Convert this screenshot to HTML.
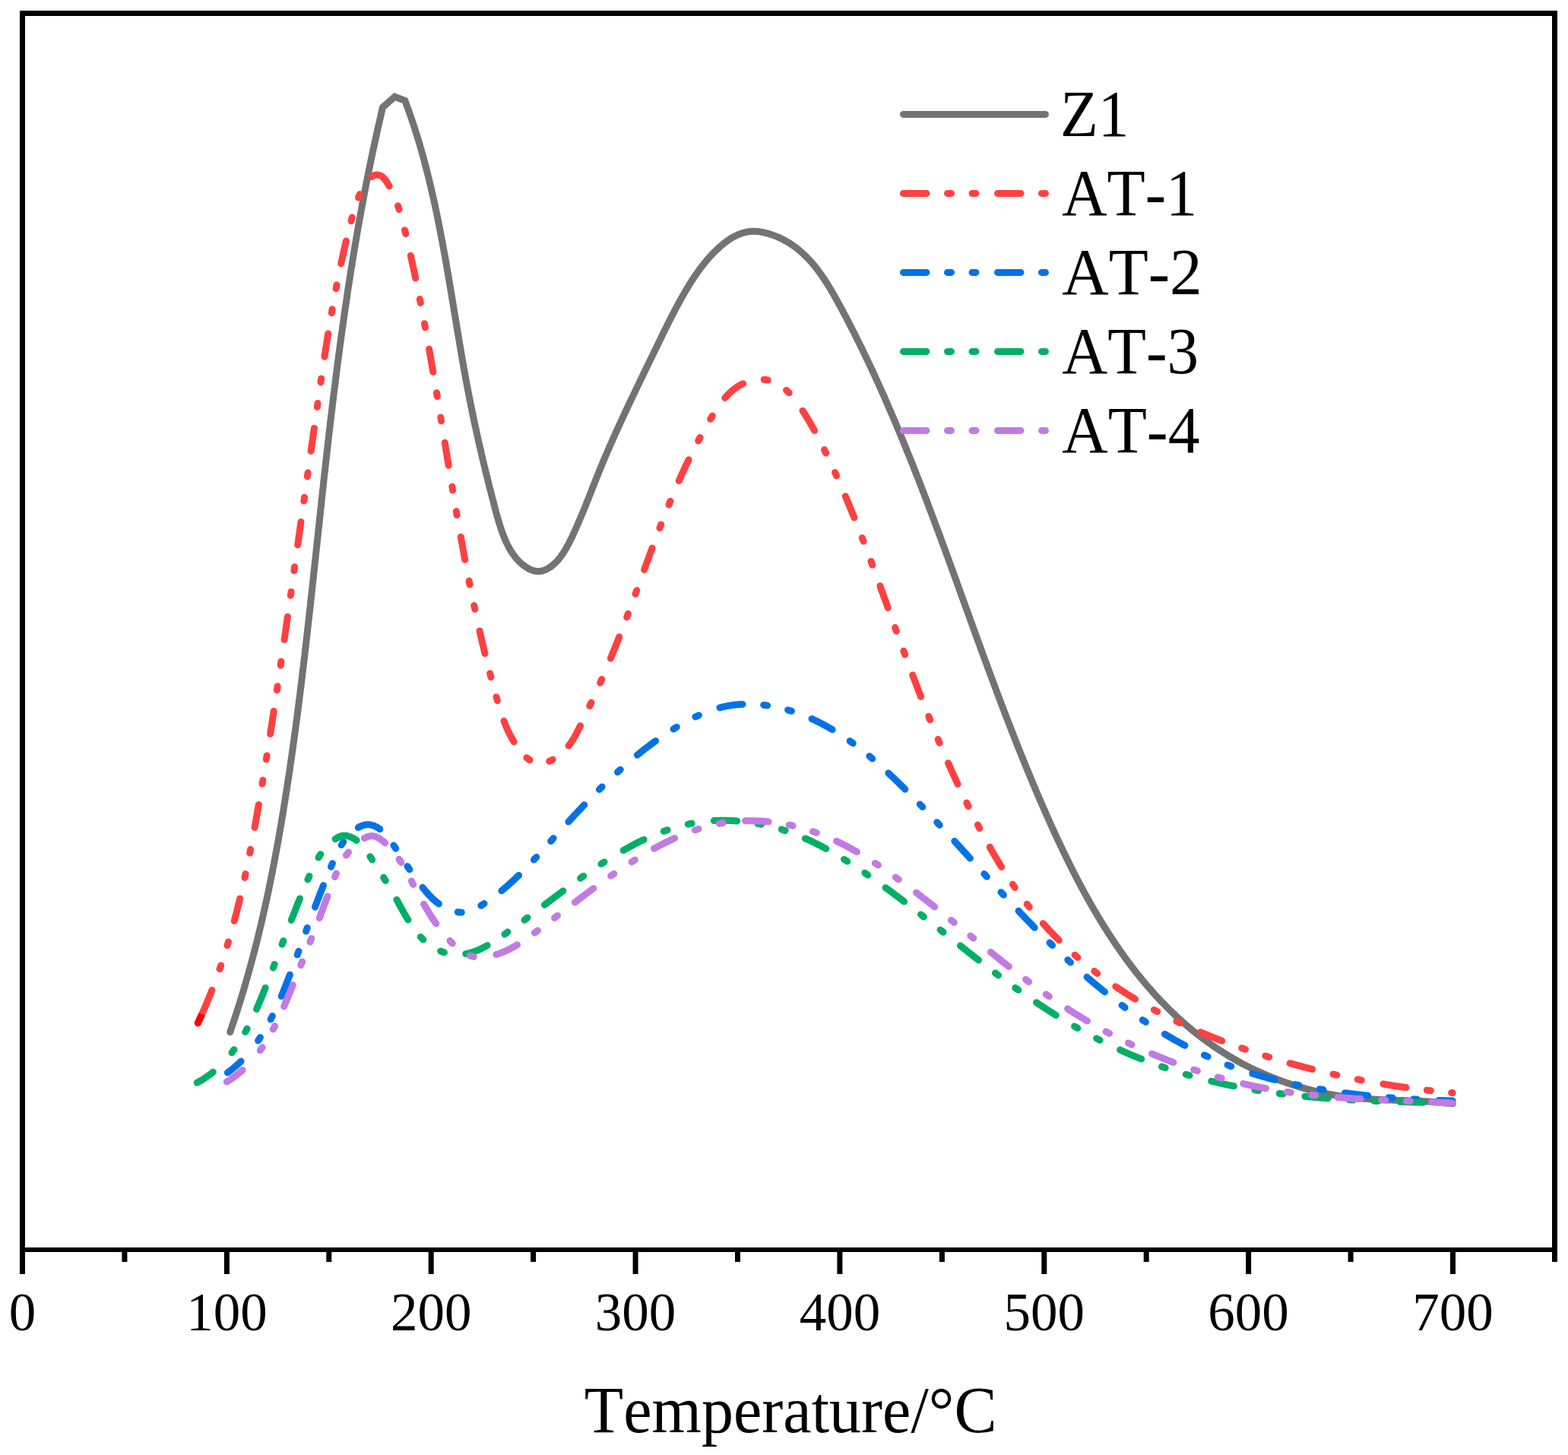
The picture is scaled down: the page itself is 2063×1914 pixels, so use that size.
<!DOCTYPE html><html><head><meta charset="utf-8"><title>TPD</title><style>html,body{margin:0;padding:0;background:#fff;}svg{display:block;}text{font-family:"Liberation Serif","Times New Roman",serif;fill:#000;font-kerning:none;}</style></head><body>
<svg width="2063" height="1914" viewBox="0 0 2063 1914">
<rect x="0" y="0" width="2063" height="1914" fill="#fff"/>
<path d="M302.7 1357.7 L303.4 1355.8 L304.0 1353.9 L304.7 1352.0 L305.3 1350.0 L306.0 1348.1 L306.6 1346.2 L307.3 1344.3 L307.9 1342.4 L308.5 1340.5 L309.2 1338.6 L309.8 1336.7 L310.4 1334.8 L311.0 1332.9 L311.6 1331.0 L312.3 1329.0 L312.9 1327.1 L313.5 1325.2 L314.1 1323.3 L314.7 1321.4 L315.3 1319.5 L315.9 1317.6 L316.5 1315.6 L317.1 1313.7 L317.7 1311.8 L318.2 1309.9 L318.8 1308.0 L319.4 1306.0 L320.0 1304.1 L320.6 1302.2 L321.1 1300.3 L321.7 1298.3 L322.3 1296.4 L322.8 1294.5 L323.4 1292.6 L323.9 1290.6 L324.5 1288.7 L325.0 1286.8 L325.6 1284.9 L326.1 1282.9 L326.7 1281.0 L327.2 1279.1 L327.8 1277.1 L328.3 1275.2 L328.8 1273.3 L329.4 1271.3 L329.9 1269.4 L330.4 1267.5 L330.9 1265.5 L331.5 1263.6 L332.0 1261.7 L332.5 1259.7 L333.0 1257.8 L333.5 1255.9 L334.0 1253.9 L334.5 1252.0 L335.0 1250.1 L335.5 1248.1 L336.0 1246.2 L336.5 1244.2 L337.0 1242.3 L337.5 1240.4 L338.0 1238.4 L338.5 1236.5 L338.9 1234.5 L339.4 1232.6 L339.9 1230.6 L340.4 1228.7 L340.8 1226.7 L341.3 1224.8 L341.8 1222.9 L342.2 1220.9 L342.7 1219.0 L343.2 1217.0 L343.6 1215.1 L344.1 1213.1 L344.5 1211.2 L345.0 1209.2 L345.4 1207.3 L345.9 1205.3 L346.3 1203.4 L346.8 1201.4 L347.2 1199.5 L347.7 1197.5 L348.1 1195.6 L348.5 1193.6 L349.0 1191.7 L349.4 1189.7 L349.8 1187.7 L350.3 1185.8 L350.7 1183.8 L351.1 1181.9 L351.5 1179.9 L351.9 1178.0 L352.4 1176.0 L352.8 1174.1 L353.2 1172.1 L353.6 1170.1 L354.0 1168.2 L354.4 1166.2 L354.8 1164.3 L355.2 1162.3 L355.6 1160.3 L356.0 1158.4 L356.4 1156.4 L356.8 1154.5 L357.2 1152.5 L357.6 1150.5 L358.0 1148.6 L358.4 1146.6 L358.8 1144.6 L359.1 1142.7 L359.5 1140.7 L359.9 1138.7 L360.3 1136.8 L360.7 1134.8 L361.0 1132.9 L361.4 1130.9 L361.8 1128.9 L362.1 1127.0 L362.5 1125.0 L362.9 1123.0 L363.2 1121.1 L363.6 1119.1 L364.0 1117.1 L364.3 1115.1 L364.7 1113.2 L365.0 1111.2 L365.4 1109.2 L365.8 1107.3 L366.1 1105.3 L366.5 1103.3 L366.8 1101.4 L367.2 1099.4 L367.5 1097.4 L367.9 1095.4 L368.2 1093.5 L368.5 1091.5 L368.9 1089.5 L369.2 1087.6 L369.6 1085.6 L369.9 1083.6 L370.2 1081.6 L370.6 1079.7 L370.9 1077.7 L371.2 1075.7 L371.6 1073.7 L371.9 1071.8 L372.2 1069.8 L372.5 1067.8 L372.9 1065.8 L373.2 1063.9 L373.5 1061.9 L373.8 1059.9 L374.1 1057.9 L374.5 1055.9 L374.8 1054.0 L375.1 1052.0 L375.4 1050.0 L375.7 1048.0 L376.0 1046.1 L376.3 1044.1 L376.7 1042.1 L377.0 1040.1 L377.3 1038.1 L377.6 1036.2 L377.9 1034.2 L378.2 1032.2 L378.5 1030.2 L378.8 1028.2 L379.1 1026.3 L379.4 1024.3 L379.7 1022.3 L380.0 1020.3 L380.3 1018.3 L380.6 1016.4 L380.9 1014.4 L381.2 1012.4 L381.5 1010.4 L381.8 1008.4 L382.0 1006.5 L382.3 1004.5 L382.6 1002.5 L382.9 1000.5 L383.2 998.5 L383.5 996.5 L383.8 994.6 L384.1 992.6 L384.3 990.6 L384.6 988.6 L384.9 986.6 L385.2 984.6 L385.5 982.6 L385.7 980.7 L386.0 978.7 L386.3 976.7 L386.6 974.7 L386.8 972.7 L387.1 970.7 L387.4 968.8 L387.6 966.8 L387.9 964.8 L388.2 962.8 L388.5 960.8 L388.7 958.8 L389.0 956.8 L389.3 954.8 L389.5 952.9 L389.8 950.9 L390.0 948.9 L390.3 946.9 L390.6 944.9 L390.8 942.9 L391.1 940.9 L391.4 938.9 L391.6 937.0 L391.9 935.0 L392.1 933.0 L392.4 931.0 L392.6 929.0 L392.9 927.0 L393.1 925.0 L393.4 923.0 L393.6 921.1 L393.9 919.1 L394.2 917.1 L394.4 915.1 L394.7 913.1 L394.9 911.1 L395.1 909.1 L395.4 907.1 L395.6 905.1 L395.9 903.1 L396.1 901.2 L396.4 899.2 L396.6 897.2 L396.9 895.2 L397.1 893.2 L397.4 891.2 L397.6 889.2 L397.8 887.2 L398.1 885.2 L398.3 883.2 L398.6 881.2 L398.8 879.2 L399.0 877.3 L399.3 875.3 L399.5 873.3 L399.7 871.3 L400.0 869.3 L400.2 867.3 L400.4 865.3 L400.7 863.3 L400.9 861.3 L401.1 859.3 L401.4 857.3 L401.6 855.3 L401.8 853.3 L402.1 851.4 L402.3 849.4 L402.5 847.4 L402.8 845.4 L403.0 843.4 L403.2 841.4 L403.4 839.4 L403.7 837.4 L403.9 835.4 L404.1 833.4 L404.4 831.4 L404.6 829.4 L404.8 827.4 L405.0 825.4 L405.3 823.4 L405.5 821.4 L405.7 819.4 L405.9 817.5 L406.2 815.5 L406.4 813.5 L406.6 811.5 L406.8 809.5 L407.0 807.5 L407.3 805.5 L407.5 803.5 L407.7 801.5 L407.9 799.5 L408.1 797.5 L408.4 795.5 L408.6 793.5 L408.8 791.5 L409.0 789.5 L409.2 787.5 L409.5 785.5 L409.7 783.5 L409.9 781.5 L410.1 779.5 L410.3 777.5 L410.6 775.6 L410.8 773.6 L411.0 771.6 L411.2 769.6 L411.4 767.6 L411.6 765.6 L411.9 763.6 L412.1 761.6 L412.3 759.6 L412.5 757.6 L412.7 755.6 L412.9 753.6 L413.1 751.6 L413.4 749.6 L413.6 747.6 L413.8 745.6 L414.0 743.6 L414.2 741.6 L414.4 739.6 L414.6 737.6 L414.9 735.6 L415.1 733.6 L415.3 731.6 L415.5 729.6 L415.7 727.6 L415.9 725.7 L416.1 723.7 L416.4 721.7 L416.6 719.7 L416.8 717.7 L417.0 715.7 L417.2 713.7 L417.4 711.7 L417.6 709.7 L417.9 707.7 L418.1 705.7 L418.3 703.7 L418.5 701.7 L418.7 699.7 L418.9 697.7 L419.1 695.7 L419.4 693.7 L419.6 691.7 L419.8 689.7 L420.0 687.7 L420.2 685.7 L420.4 683.7 L420.6 681.7 L420.9 679.7 L421.1 677.7 L421.3 675.7 L421.5 673.8 L421.7 671.8 L421.9 669.8 L422.1 667.8 L422.4 665.8 L422.6 663.8 L422.8 661.8 L423.0 659.8 L423.2 657.8 L423.4 655.8 L423.7 653.8 L423.9 651.8 L424.1 649.8 L424.3 647.8 L424.5 645.8 L424.7 643.8 L425.0 641.8 L425.2 639.8 L425.4 637.8 L425.6 635.8 L425.8 633.8 L426.0 631.8 L426.3 629.8 L426.5 627.9 L426.7 625.9 L426.9 623.9 L427.1 621.9 L427.4 619.9 L427.6 617.9 L427.8 615.9 L428.0 613.9 L428.3 611.9 L428.5 609.9 L428.7 607.9 L428.9 605.9 L429.1 603.9 L429.4 601.9 L429.6 599.9 L429.8 597.9 L430.0 595.9 L430.3 593.9 L430.5 592.0 L430.7 590.0 L431.0 588.0 L431.2 586.0 L431.4 584.0 L431.6 582.0 L431.9 580.0 L432.1 578.0 L432.3 576.0 L432.6 574.0 L432.8 572.0 L433.0 570.0 L433.2 568.0 L433.5 566.0 L433.7 564.0 L433.9 562.1 L434.2 560.1 L434.4 558.1 L434.6 556.1 L434.9 554.1 L435.1 552.1 L435.3 550.1 L435.6 548.1 L435.8 546.1 L436.1 544.1 L436.3 542.1 L436.5 540.1 L436.8 538.2 L437.0 536.2 L437.2 534.2 L437.5 532.2 L437.7 530.2 L438.0 528.2 L438.2 526.2 L438.5 524.2 L438.7 522.2 L438.9 520.2 L439.2 518.2 L439.4 516.3 L439.7 514.3 L439.9 512.3 L440.2 510.3 L440.4 508.3 L440.7 506.3 L440.9 504.3 L441.2 502.3 L441.4 500.3 L441.7 498.3 L441.9 496.4 L442.2 494.4 L442.4 492.4 L442.7 490.4 L442.9 488.4 L443.2 486.4 L443.4 484.4 L443.7 482.4 L444.0 480.4 L444.2 478.5 L444.5 476.5 L444.7 474.5 L445.0 472.5 L445.3 470.5 L445.5 468.5 L445.8 466.5 L446.0 464.5 L446.3 462.6 L446.6 460.6 L446.8 458.6 L447.1 456.6 L447.4 454.6 L447.6 452.6 L447.9 450.6 L448.2 448.7 L448.4 446.7 L448.7 444.7 L449.0 442.7 L449.3 440.7 L449.5 438.7 L449.8 436.7 L450.1 434.8 L450.4 432.8 L450.6 430.8 L450.9 428.8 L451.2 426.8 L451.5 424.8 L451.7 422.9 L452.0 420.9 L452.3 418.9 L452.6 416.9 L452.9 414.9 L453.2 412.9 L453.4 411.0 L453.7 409.0 L454.0 407.0 L454.3 405.0 L454.6 403.0 L454.9 401.0 L455.2 399.1 L455.5 397.1 L455.8 395.1 L456.1 393.1 L456.4 391.1 L456.6 389.2 L456.9 387.2 L457.2 385.2 L457.5 383.2 L457.8 381.2 L458.1 379.3 L458.4 377.3 L458.7 375.3 L459.1 373.3 L459.4 371.3 L459.7 369.4 L460.0 367.4 L460.3 365.4 L460.6 363.4 L460.9 361.4 L461.2 359.5 L461.5 357.5 L461.8 355.5 L462.1 353.5 L462.5 351.5 L462.8 349.6 L463.1 347.6 L463.4 345.6 L463.7 343.6 L464.1 341.7 L464.4 339.7 L464.7 337.7 L465.0 335.7 L465.3 333.8 L465.7 331.8 L466.0 329.8 L466.3 327.8 L466.7 325.9 L467.0 323.9 L467.3 321.9 L467.7 319.9 L468.0 318.0 L468.3 316.0 L468.7 314.0 L469.0 312.0 L469.3 310.1 L469.7 308.1 L470.0 306.1 L470.4 304.1 L470.7 302.2 L471.1 300.2 L471.4 298.2 L471.7 296.3 L472.1 294.3 L472.4 292.3 L472.8 290.3 L473.1 288.4 L473.5 286.4 L473.9 284.4 L474.2 282.5 L474.6 280.5 L474.9 278.5 L475.3 276.5 L475.7 274.6 L476.0 272.6 L476.4 270.6 L476.7 268.7 L477.1 266.7 L477.5 264.7 L477.8 262.8 L478.2 260.8 L478.6 258.8 L479.0 256.9 L479.3 254.9 L479.7 252.9 L480.1 251.0 L480.5 249.0 L480.9 247.0 L481.2 245.1 L481.6 243.1 L482.0 241.1 L482.4 239.2 L482.8 237.2 L483.2 235.2 L483.5 233.3 L483.9 231.3 L484.3 229.3 L484.7 227.4 L485.1 225.4 L485.5 223.4 L485.9 221.5 L486.3 219.5 L486.7 217.6 L487.1 215.6 L487.5 213.6 L487.9 211.7 L488.3 209.7 L488.7 207.7 L489.2 205.8 L489.6 203.8 L490.0 201.9 L490.4 199.9 L490.8 197.9 L491.2 196.0 L491.6 194.0 L492.1 192.1 L492.5 190.1 L492.9 188.1 L493.3 186.2 L493.8 184.2 L494.2 182.3 L494.6 180.3 L495.1 178.4 L495.5 176.4 L495.9 174.4 L496.4 172.5 L496.8 170.5 L497.2 168.6 L497.7 166.6 L498.1 164.7 L498.6 162.7 L499.0 160.7 L499.5 158.8 L499.9 156.8 L500.4 154.9 L500.8 152.9 L501.3 151.0 L501.7 149.0 L502.2 147.1 L502.6 145.1 L503.1 143.2 L503.6 141.2 L519.4 127.2 L532.9 132.4 L533.6 134.3 L534.3 136.1 L534.9 138.0 L535.6 139.8 L536.3 141.7 L537.0 143.6 L537.7 145.4 L538.3 147.3 L539.0 149.2 L539.6 151.1 L540.3 152.9 L540.9 154.8 L541.6 156.7 L542.2 158.6 L542.8 160.5 L543.5 162.4 L544.1 164.2 L544.7 166.1 L545.3 168.0 L545.9 169.9 L546.5 171.8 L547.1 173.7 L547.7 175.6 L548.3 177.5 L548.9 179.4 L549.5 181.3 L550.1 183.2 L550.7 185.1 L551.2 187.0 L551.8 188.9 L552.4 190.8 L552.9 192.8 L553.5 194.7 L554.0 196.6 L554.6 198.5 L555.1 200.4 L555.6 202.3 L556.2 204.3 L556.7 206.2 L557.2 208.1 L557.8 210.0 L558.3 212.0 L558.8 213.9 L559.3 215.8 L559.8 217.8 L560.3 219.7 L560.8 221.6 L561.3 223.6 L561.8 225.5 L562.3 227.4 L562.8 229.4 L563.3 231.3 L563.8 233.3 L564.2 235.2 L564.7 237.1 L565.2 239.1 L565.6 241.0 L566.1 243.0 L566.6 244.9 L567.0 246.9 L567.5 248.8 L567.9 250.8 L568.4 252.7 L568.8 254.7 L569.3 256.6 L569.7 258.6 L570.2 260.6 L570.6 262.5 L571.0 264.5 L571.5 266.4 L571.9 268.4 L572.3 270.3 L572.7 272.3 L573.1 274.3 L573.6 276.2 L574.0 278.2 L574.4 280.2 L574.8 282.1 L575.2 284.1 L575.6 286.1 L576.0 288.0 L576.4 290.0 L576.8 292.0 L577.2 293.9 L577.6 295.9 L578.0 297.9 L578.4 299.9 L578.8 301.8 L579.1 303.8 L579.5 305.8 L579.9 307.8 L580.3 309.7 L580.7 311.7 L581.0 313.7 L581.4 315.7 L581.8 317.6 L582.2 319.6 L582.5 321.6 L582.9 323.6 L583.3 325.6 L583.6 327.5 L584.0 329.5 L584.3 331.5 L584.7 333.5 L585.1 335.5 L585.4 337.4 L585.8 339.4 L586.1 341.4 L586.5 343.4 L586.8 345.4 L587.2 347.3 L587.5 349.3 L587.9 351.3 L588.2 353.3 L588.5 355.3 L588.9 357.3 L589.2 359.2 L589.6 361.2 L589.9 363.2 L590.3 365.2 L590.6 367.2 L590.9 369.2 L591.3 371.2 L591.6 373.1 L591.9 375.1 L592.3 377.1 L592.6 379.1 L592.9 381.1 L593.3 383.1 L593.6 385.0 L593.9 387.0 L594.3 389.0 L594.6 391.0 L594.9 393.0 L595.2 395.0 L595.6 397.0 L595.9 398.9 L596.2 400.9 L596.6 402.9 L596.9 404.9 L597.2 406.9 L597.5 408.9 L597.9 410.8 L598.2 412.8 L598.5 414.8 L598.9 416.8 L599.2 418.8 L599.5 420.7 L599.8 422.7 L600.2 424.7 L600.5 426.7 L600.8 428.7 L601.1 430.6 L601.5 432.6 L601.8 434.6 L602.1 436.6 L602.5 438.5 L602.8 440.5 L603.1 442.5 L603.5 444.5 L603.8 446.4 L604.1 448.4 L604.4 450.4 L604.8 452.4 L605.1 454.3 L605.4 456.3 L605.8 458.3 L606.1 460.3 L606.5 462.2 L606.8 464.2 L607.1 466.2 L607.5 468.1 L607.8 470.1 L608.1 472.1 L608.5 474.0 L608.8 476.0 L609.2 477.9 L609.5 479.9 L609.9 481.9 L610.2 483.8 L610.6 485.8 L610.9 487.7 L611.3 489.7 L611.6 491.7 L612.0 493.6 L612.3 495.6 L612.7 497.5 L613.0 499.5 L613.4 501.4 L613.8 503.4 L614.1 505.3 L614.5 507.3 L614.9 509.2 L615.2 511.2 L615.6 513.1 L616.0 515.1 L616.3 517.0 L616.7 518.9 L617.1 520.9 L617.5 522.8 L617.9 524.8 L618.2 526.7 L618.6 528.6 L619.0 530.6 L619.4 532.5 L619.8 534.5 L620.2 536.4 L620.6 538.3 L621.0 540.3 L621.4 542.2 L621.8 544.1 L622.2 546.1 L622.6 548.0 L623.0 549.9 L623.4 551.8 L623.8 553.8 L624.2 555.7 L624.6 557.6 L625.0 559.6 L625.5 561.5 L625.9 563.4 L626.3 565.4 L626.7 567.3 L627.1 569.2 L627.6 571.2 L628.0 573.1 L628.4 575.0 L628.9 577.0 L629.3 578.9 L629.7 580.9 L630.2 582.8 L630.6 584.7 L631.1 586.7 L631.5 588.6 L632.0 590.6 L632.4 592.5 L632.9 594.4 L633.3 596.4 L633.8 598.3 L634.2 600.3 L634.7 602.2 L635.1 604.2 L635.6 606.1 L636.1 608.1 L636.5 610.1 L637.0 612.0 L637.5 614.0 L638.0 615.9 L638.4 617.9 L638.9 619.9 L639.4 621.8 L639.9 623.8 L640.4 625.8 L640.9 627.8 L641.4 629.7 L641.8 631.7 L642.3 633.7 L642.8 635.7 L643.3 637.7 L643.8 639.7 L644.3 641.7 L644.9 643.7 L645.4 645.6 L645.9 647.6 L646.4 649.7 L646.9 651.7 L647.4 653.7 L647.9 655.7 L648.5 657.7 L649.0 659.7 L649.5 661.7 L650.0 663.8 L650.6 665.8 L651.1 667.8 L651.7 669.9 L652.2 671.9 L652.7 673.9 L653.3 676.0 L653.8 678.0 L654.4 680.0 L655.0 682.1 L655.6 684.1 L656.2 686.1 L656.8 688.1 L657.4 690.1 L658.0 692.1 L658.7 694.1 L659.3 696.1 L660.0 698.1 L660.7 700.0 L661.4 701.9 L662.1 703.9 L662.8 705.8 L663.6 707.6 L664.4 709.5 L665.2 711.4 L666.0 713.2 L666.9 715.0 L667.8 716.8 L668.7 718.5 L669.6 720.3 L670.5 722.0 L671.5 723.6 L672.5 725.3 L673.6 726.9 L674.7 728.5 L675.8 730.1 L676.9 731.6 L678.1 733.1 L679.3 734.5 L680.5 736.0 L681.8 737.3 L683.1 738.7 L684.5 740.0 L685.9 741.3 L687.3 742.5 L688.8 743.7 L690.3 744.8 L691.8 745.8 L693.4 746.8 L694.9 747.7 L696.5 748.6 L698.2 749.3 L699.8 750.0 L701.5 750.5 L703.1 751.0 L704.8 751.3 L706.5 751.5 L708.2 751.6 L709.9 751.5 L711.5 751.3 L713.2 751.0 L714.9 750.5 L716.5 749.9 L718.2 749.3 L719.8 748.5 L721.4 747.6 L723.0 746.6 L724.5 745.5 L726.1 744.4 L727.5 743.2 L729.0 741.9 L730.4 740.6 L731.8 739.2 L733.2 737.7 L734.5 736.2 L735.8 734.7 L737.0 733.1 L738.3 731.4 L739.5 729.7 L740.7 728.0 L741.8 726.2 L743.0 724.4 L744.1 722.6 L745.2 720.7 L746.2 718.8 L747.3 716.9 L748.3 715.0 L749.3 713.0 L750.3 711.1 L751.3 709.1 L752.2 707.1 L753.2 705.2 L754.1 703.2 L755.0 701.2 L755.9 699.2 L756.8 697.2 L757.7 695.3 L758.5 693.3 L759.4 691.4 L760.2 689.4 L761.1 687.5 L761.9 685.6 L762.7 683.7 L763.5 681.8 L764.3 679.9 L765.1 678.0 L765.9 676.1 L766.7 674.2 L767.5 672.3 L768.2 670.4 L769.0 668.6 L769.8 666.7 L770.5 664.9 L771.3 663.0 L772.0 661.2 L772.7 659.3 L773.5 657.5 L774.2 655.7 L774.9 653.8 L775.6 652.0 L776.4 650.2 L777.1 648.4 L777.8 646.6 L778.5 644.7 L779.2 642.9 L779.9 641.1 L780.7 639.3 L781.4 637.5 L782.1 635.7 L782.8 633.9 L783.5 632.1 L784.2 630.3 L784.9 628.5 L785.7 626.7 L786.4 624.9 L787.1 623.1 L787.8 621.3 L788.6 619.5 L789.3 617.7 L790.0 615.9 L790.8 614.1 L791.5 612.3 L792.3 610.5 L793.0 608.7 L793.8 606.8 L794.5 605.0 L795.3 603.2 L796.1 601.4 L796.8 599.6 L797.6 597.8 L798.4 596.0 L799.2 594.1 L800.0 592.3 L800.8 590.5 L801.6 588.7 L802.3 586.9 L803.1 585.0 L803.9 583.2 L804.8 581.4 L805.6 579.6 L806.4 577.7 L807.2 575.9 L808.0 574.1 L808.8 572.3 L809.6 570.4 L810.5 568.6 L811.3 566.8 L812.1 564.9 L813.0 563.1 L813.8 561.3 L814.6 559.5 L815.5 557.6 L816.3 555.8 L817.2 554.0 L818.0 552.1 L818.9 550.3 L819.7 548.5 L820.6 546.6 L821.4 544.8 L822.3 543.0 L823.1 541.2 L824.0 539.3 L824.8 537.5 L825.7 535.7 L826.6 533.8 L827.4 532.0 L828.3 530.2 L829.2 528.3 L830.0 526.5 L830.9 524.7 L831.8 522.8 L832.7 521.0 L833.5 519.2 L834.4 517.4 L835.3 515.5 L836.2 513.7 L837.0 511.9 L837.9 510.1 L838.8 508.2 L839.7 506.4 L840.5 504.6 L841.4 502.8 L842.3 500.9 L843.2 499.1 L844.1 497.3 L844.9 495.5 L845.8 493.7 L846.7 491.8 L847.6 490.0 L848.5 488.2 L849.3 486.4 L850.2 484.6 L851.1 482.8 L852.0 480.9 L852.9 479.1 L853.7 477.3 L854.6 475.5 L855.5 473.7 L856.4 471.9 L857.3 470.1 L858.1 468.3 L859.0 466.5 L859.9 464.7 L860.7 462.9 L861.6 461.1 L862.5 459.3 L863.4 457.5 L864.2 455.7 L865.1 453.9 L866.0 452.1 L866.8 450.3 L867.7 448.6 L868.6 446.8 L869.4 445.0 L870.3 443.2 L871.2 441.4 L872.0 439.6 L872.9 437.9 L873.8 436.1 L874.6 434.3 L875.5 432.5 L876.4 430.8 L877.3 429.0 L878.1 427.2 L879.0 425.5 L879.9 423.7 L880.8 421.9 L881.7 420.2 L882.6 418.4 L883.5 416.7 L884.4 414.9 L885.3 413.2 L886.2 411.4 L887.1 409.6 L888.0 407.9 L889.0 406.1 L889.9 404.4 L890.8 402.7 L891.8 400.9 L892.7 399.2 L893.6 397.4 L894.6 395.7 L895.6 393.9 L896.5 392.2 L897.5 390.5 L898.5 388.7 L899.5 387.0 L900.5 385.3 L901.5 383.5 L902.5 381.8 L903.5 380.1 L904.6 378.4 L905.6 376.7 L906.7 374.9 L907.7 373.2 L908.8 371.5 L909.9 369.8 L911.0 368.1 L912.1 366.4 L913.2 364.8 L914.3 363.1 L915.5 361.4 L916.6 359.8 L917.8 358.1 L919.0 356.5 L920.1 354.8 L921.3 353.2 L922.6 351.6 L923.8 350.0 L925.0 348.4 L926.3 346.8 L927.6 345.2 L928.9 343.7 L930.2 342.1 L931.5 340.6 L932.8 339.1 L934.2 337.6 L935.5 336.1 L936.9 334.6 L938.3 333.1 L939.7 331.7 L941.2 330.3 L942.6 328.9 L944.1 327.5 L945.6 326.1 L947.1 324.7 L948.6 323.4 L950.2 322.1 L951.8 320.8 L953.3 319.5 L955.0 318.3 L956.6 317.1 L958.2 315.9 L959.9 314.8 L961.6 313.7 L963.3 312.7 L965.0 311.7 L966.7 310.8 L968.5 309.9 L970.3 309.0 L972.1 308.3 L973.9 307.6 L975.7 306.9 L977.6 306.3 L979.5 305.8 L981.4 305.4 L983.3 305.0 L985.2 304.7 L987.2 304.5 L989.1 304.3 L991.1 304.3 L993.1 304.3 L995.1 304.4 L997.2 304.6 L999.2 304.8 L1001.2 305.1 L1003.3 305.5 L1005.3 305.9 L1007.3 306.4 L1009.3 306.9 L1011.3 307.4 L1013.3 308.1 L1015.3 308.7 L1017.3 309.4 L1019.2 310.1 L1021.1 310.9 L1023.0 311.6 L1024.8 312.4 L1026.6 313.3 L1028.4 314.2 L1030.2 315.0 L1032.0 316.0 L1033.7 316.9 L1035.4 317.9 L1037.1 318.9 L1038.8 319.9 L1040.4 321.0 L1042.0 322.1 L1043.6 323.2 L1045.2 324.3 L1046.7 325.5 L1048.3 326.6 L1049.8 327.8 L1051.3 329.1 L1052.8 330.3 L1054.2 331.6 L1055.7 332.9 L1057.1 334.2 L1058.5 335.5 L1059.9 336.8 L1061.3 338.2 L1062.6 339.6 L1064.0 341.0 L1065.3 342.4 L1066.6 343.9 L1067.9 345.3 L1069.1 346.8 L1070.4 348.3 L1071.7 349.8 L1072.9 351.3 L1074.1 352.9 L1075.3 354.4 L1076.5 356.0 L1077.7 357.6 L1078.8 359.2 L1080.0 360.8 L1081.1 362.4 L1082.3 364.0 L1083.4 365.7 L1084.5 367.3 L1085.6 369.0 L1086.7 370.7 L1087.8 372.4 L1088.8 374.1 L1089.9 375.8 L1091.0 377.5 L1092.0 379.2 L1093.0 380.9 L1094.1 382.7 L1095.1 384.4 L1096.1 386.2 L1097.1 387.9 L1098.1 389.7 L1099.1 391.5 L1100.1 393.2 L1101.1 395.0 L1102.1 396.8 L1103.0 398.6 L1104.0 400.4 L1105.0 402.1 L1106.0 403.9 L1106.9 405.7 L1107.9 407.5 L1108.8 409.3 L1109.8 411.1 L1110.7 412.9 L1111.7 414.7 L1112.6 416.5 L1113.6 418.3 L1114.5 420.1 L1115.4 421.9 L1116.4 423.7 L1117.3 425.5 L1118.2 427.3 L1119.2 429.1 L1120.1 430.9 L1121.0 432.7 L1121.9 434.5 L1122.9 436.3 L1123.8 438.1 L1124.7 439.9 L1125.6 441.8 L1126.5 443.6 L1127.4 445.4 L1128.3 447.2 L1129.2 449.0 L1130.1 450.8 L1131.0 452.6 L1131.9 454.4 L1132.8 456.3 L1133.7 458.1 L1134.6 459.9 L1135.4 461.7 L1136.3 463.5 L1137.2 465.4 L1138.1 467.2 L1139.0 469.0 L1139.8 470.8 L1140.7 472.6 L1141.6 474.5 L1142.4 476.3 L1143.3 478.1 L1144.2 479.9 L1145.0 481.8 L1145.9 483.6 L1146.7 485.4 L1147.6 487.2 L1148.4 489.1 L1149.3 490.9 L1150.1 492.7 L1151.0 494.6 L1151.8 496.4 L1152.6 498.2 L1153.5 500.1 L1154.3 501.9 L1155.2 503.7 L1156.0 505.6 L1156.8 507.4 L1157.6 509.2 L1158.5 511.1 L1159.3 512.9 L1160.1 514.7 L1160.9 516.6 L1161.8 518.4 L1162.6 520.2 L1163.4 522.1 L1164.2 523.9 L1165.0 525.8 L1165.8 527.6 L1166.6 529.4 L1167.4 531.3 L1168.2 533.1 L1169.0 535.0 L1169.8 536.8 L1170.6 538.6 L1171.4 540.5 L1172.2 542.3 L1173.0 544.2 L1173.8 546.0 L1174.6 547.9 L1175.4 549.7 L1176.2 551.6 L1176.9 553.4 L1177.7 555.2 L1178.5 557.1 L1179.3 558.9 L1180.1 560.8 L1180.8 562.6 L1181.6 564.5 L1182.4 566.3 L1183.2 568.2 L1183.9 570.0 L1184.7 571.9 L1185.5 573.7 L1186.2 575.6 L1187.0 577.4 L1187.8 579.3 L1188.5 581.1 L1189.3 583.0 L1190.0 584.8 L1190.8 586.7 L1191.5 588.5 L1192.3 590.4 L1193.0 592.2 L1193.8 594.1 L1194.5 595.9 L1195.3 597.8 L1196.0 599.6 L1196.8 601.5 L1197.5 603.3 L1198.3 605.2 L1199.0 607.0 L1199.8 608.9 L1200.5 610.7 L1201.2 612.6 L1202.0 614.5 L1202.7 616.3 L1203.4 618.2 L1204.2 620.0 L1204.9 621.9 L1205.6 623.7 L1206.4 625.6 L1207.1 627.4 L1207.8 629.3 L1208.5 631.2 L1209.3 633.0 L1210.0 634.9 L1210.7 636.7 L1211.4 638.6 L1212.1 640.4 L1212.9 642.3 L1213.6 644.2 L1214.3 646.0 L1215.0 647.9 L1215.7 649.7 L1216.4 651.6 L1217.2 653.5 L1217.9 655.3 L1218.6 657.2 L1219.3 659.0 L1220.0 660.9 L1220.7 662.8 L1221.4 664.6 L1222.1 666.5 L1222.8 668.4 L1223.5 670.2 L1224.2 672.1 L1224.9 673.9 L1225.6 675.8 L1226.3 677.7 L1227.0 679.5 L1227.7 681.4 L1228.4 683.3 L1229.1 685.1 L1229.8 687.0 L1230.5 688.8 L1231.2 690.7 L1231.9 692.6 L1232.6 694.4 L1233.3 696.3 L1234.0 698.2 L1234.7 700.0 L1235.4 701.9 L1236.1 703.8 L1236.8 705.6 L1237.5 707.5 L1238.2 709.4 L1238.8 711.2 L1239.5 713.1 L1240.2 715.0 L1240.9 716.8 L1241.6 718.7 L1242.3 720.6 L1243.0 722.4 L1243.7 724.3 L1244.3 726.2 L1245.0 728.0 L1245.7 729.9 L1246.4 731.8 L1247.1 733.6 L1247.8 735.5 L1248.4 737.4 L1249.1 739.2 L1249.8 741.1 L1250.5 743.0 L1251.2 744.8 L1251.8 746.7 L1252.5 748.6 L1253.2 750.5 L1253.9 752.3 L1254.6 754.2 L1255.2 756.1 L1255.9 757.9 L1256.6 759.8 L1257.3 761.7 L1258.0 763.5 L1258.6 765.4 L1259.3 767.3 L1260.0 769.2 L1260.7 771.0 L1261.3 772.9 L1262.0 774.8 L1262.7 776.6 L1263.4 778.5 L1264.1 780.4 L1264.7 782.2 L1265.4 784.1 L1266.1 786.0 L1266.8 787.9 L1267.4 789.7 L1268.1 791.6 L1268.8 793.5 L1269.5 795.3 L1270.1 797.2 L1270.8 799.1 L1271.5 801.0 L1272.2 802.8 L1272.9 804.7 L1273.5 806.6 L1274.2 808.4 L1274.9 810.3 L1275.6 812.2 L1276.2 814.1 L1276.9 815.9 L1277.6 817.8 L1278.3 819.7 L1279.0 821.5 L1279.6 823.4 L1280.3 825.3 L1281.0 827.2 L1281.7 829.0 L1282.3 830.9 L1283.0 832.8 L1283.7 834.6 L1284.4 836.5 L1285.1 838.4 L1285.7 840.3 L1286.4 842.1 L1287.1 844.0 L1287.8 845.9 L1288.5 847.8 L1289.2 849.6 L1289.8 851.5 L1290.5 853.4 L1291.2 855.2 L1291.9 857.1 L1292.6 859.0 L1293.3 860.9 L1293.9 862.7 L1294.6 864.6 L1295.3 866.5 L1296.0 868.3 L1296.7 870.2 L1297.4 872.1 L1298.1 874.0 L1298.8 875.8 L1299.4 877.7 L1300.1 879.6 L1300.8 881.4 L1301.5 883.3 L1302.2 885.2 L1302.9 887.1 L1303.6 888.9 L1304.3 890.8 L1305.0 892.7 L1305.7 894.5 L1306.4 896.4 L1307.1 898.3 L1307.8 900.2 L1308.5 902.0 L1309.2 903.9 L1309.9 905.8 L1310.6 907.6 L1311.3 909.5 L1312.0 911.4 L1312.7 913.3 L1313.4 915.1 L1314.1 917.0 L1314.8 918.9 L1315.5 920.7 L1316.2 922.6 L1316.9 924.5 L1317.6 926.4 L1318.3 928.2 L1319.0 930.1 L1319.8 932.0 L1320.5 933.8 L1321.2 935.7 L1321.9 937.6 L1322.6 939.4 L1323.3 941.3 L1324.1 943.2 L1324.8 945.1 L1325.5 946.9 L1326.2 948.8 L1326.9 950.7 L1327.7 952.5 L1328.4 954.4 L1329.1 956.3 L1329.8 958.1 L1330.6 960.0 L1331.3 961.9 L1332.0 963.7 L1332.8 965.6 L1333.5 967.5 L1334.2 969.3 L1335.0 971.2 L1335.7 973.1 L1336.4 974.9 L1337.2 976.8 L1337.9 978.7 L1338.7 980.5 L1339.4 982.4 L1340.1 984.3 L1340.9 986.1 L1341.6 988.0 L1342.4 989.9 L1343.1 991.7 L1343.9 993.6 L1344.6 995.5 L1345.4 997.3 L1346.1 999.2 L1346.9 1001.1 L1347.7 1002.9 L1348.4 1004.8 L1349.2 1006.7 L1349.9 1008.5 L1350.7 1010.4 L1351.5 1012.3 L1352.2 1014.1 L1353.0 1016.0 L1353.8 1017.8 L1354.5 1019.7 L1355.3 1021.6 L1356.1 1023.4 L1356.9 1025.3 L1357.6 1027.2 L1358.4 1029.0 L1359.2 1030.9 L1360.0 1032.7 L1360.8 1034.6 L1361.6 1036.5 L1362.3 1038.3 L1363.1 1040.2 L1363.9 1042.0 L1364.7 1043.9 L1365.5 1045.8 L1366.3 1047.6 L1367.1 1049.5 L1367.9 1051.3 L1368.7 1053.2 L1369.5 1055.1 L1370.3 1056.9 L1371.1 1058.8 L1371.9 1060.6 L1372.7 1062.5 L1373.6 1064.4 L1374.4 1066.2 L1375.2 1068.1 L1376.0 1069.9 L1376.8 1071.8 L1377.7 1073.6 L1378.5 1075.5 L1379.3 1077.3 L1380.1 1079.2 L1381.0 1081.1 L1381.8 1082.9 L1382.6 1084.8 L1383.5 1086.6 L1384.3 1088.5 L1385.1 1090.3 L1386.0 1092.2 L1386.8 1094.0 L1387.7 1095.9 L1388.5 1097.7 L1389.4 1099.6 L1390.2 1101.4 L1391.1 1103.2 L1392.0 1105.1 L1392.8 1106.9 L1393.7 1108.8 L1394.6 1110.6 L1395.4 1112.5 L1396.3 1114.3 L1397.2 1116.1 L1398.0 1118.0 L1398.9 1119.8 L1399.8 1121.6 L1400.7 1123.5 L1401.6 1125.3 L1402.5 1127.1 L1403.4 1129.0 L1404.3 1130.8 L1405.2 1132.6 L1406.1 1134.4 L1407.0 1136.2 L1407.9 1138.1 L1408.8 1139.9 L1409.7 1141.7 L1410.6 1143.5 L1411.5 1145.3 L1412.4 1147.1 L1413.4 1148.9 L1414.3 1150.7 L1415.2 1152.6 L1416.2 1154.4 L1417.1 1156.2 L1418.0 1158.0 L1419.0 1159.7 L1419.9 1161.5 L1420.9 1163.3 L1421.8 1165.1 L1422.8 1166.9 L1423.7 1168.7 L1424.7 1170.5 L1425.7 1172.3 L1426.6 1174.0 L1427.6 1175.8 L1428.6 1177.6 L1429.6 1179.4 L1430.5 1181.1 L1431.5 1182.9 L1432.5 1184.7 L1433.5 1186.4 L1434.5 1188.2 L1435.5 1189.9 L1436.5 1191.7 L1437.5 1193.4 L1438.5 1195.2 L1439.5 1196.9 L1440.5 1198.7 L1441.6 1200.4 L1442.6 1202.1 L1443.6 1203.9 L1444.6 1205.6 L1445.7 1207.3 L1446.7 1209.0 L1447.8 1210.8 L1448.8 1212.5 L1449.8 1214.2 L1450.9 1215.9 L1452.0 1217.6 L1453.0 1219.3 L1454.1 1221.0 L1455.2 1222.7 L1456.2 1224.4 L1457.3 1226.1 L1458.4 1227.8 L1459.5 1229.4 L1460.6 1231.1 L1461.7 1232.8 L1462.8 1234.5 L1463.9 1236.1 L1465.0 1237.8 L1466.1 1239.5 L1467.2 1241.1 L1468.3 1242.8 L1469.4 1244.4 L1470.6 1246.1 L1471.7 1247.7 L1472.8 1249.3 L1474.0 1251.0 L1475.1 1252.6 L1476.3 1254.2 L1477.4 1255.8 L1478.6 1257.5 L1479.7 1259.1 L1480.9 1260.7 L1482.1 1262.3 L1483.2 1263.9 L1484.4 1265.5 L1485.6 1267.1 L1486.8 1268.6 L1488.0 1270.2 L1489.2 1271.8 L1490.4 1273.4 L1491.6 1274.9 L1492.8 1276.5 L1494.0 1278.1 L1495.3 1279.6 L1496.5 1281.2 L1497.7 1282.7 L1499.0 1284.2 L1500.2 1285.8 L1501.4 1287.3 L1502.7 1288.8 L1503.9 1290.3 L1505.2 1291.9 L1506.5 1293.4 L1507.7 1294.9 L1509.0 1296.4 L1510.3 1297.9 L1511.6 1299.3 L1512.9 1300.8 L1514.2 1302.3 L1515.5 1303.8 L1516.8 1305.2 L1518.1 1306.7 L1519.4 1308.2 L1520.7 1309.6 L1522.1 1311.1 L1523.4 1312.5 L1524.7 1313.9 L1526.1 1315.4 L1527.4 1316.8 L1528.8 1318.2 L1530.2 1319.6 L1531.5 1321.0 L1532.9 1322.4 L1534.3 1323.8 L1535.7 1325.2 L1537.0 1326.6 L1538.4 1328.0 L1539.8 1329.3 L1541.2 1330.7 L1542.6 1332.1 L1544.1 1333.4 L1545.5 1334.8 L1546.9 1336.1 L1548.3 1337.4 L1549.8 1338.8 L1551.2 1340.1 L1552.7 1341.4 L1554.1 1342.7 L1555.6 1344.0 L1557.1 1345.3 L1558.5 1346.6 L1560.0 1347.9 L1561.5 1349.2 L1563.0 1350.4 L1564.5 1351.7 L1566.0 1353.0 L1567.5 1354.2 L1569.0 1355.5 L1570.5 1356.7 L1572.1 1357.9 L1573.6 1359.2 L1575.2 1360.4 L1576.7 1361.6 L1578.3 1362.8 L1579.8 1364.0 L1581.4 1365.2 L1582.9 1366.4 L1584.5 1367.5 L1586.1 1368.7 L1587.7 1369.9 L1589.3 1371.0 L1590.9 1372.2 L1592.5 1373.3 L1594.1 1374.4 L1595.7 1375.6 L1597.4 1376.7 L1599.0 1377.8 L1600.7 1378.9 L1602.3 1380.0 L1604.0 1381.1 L1605.6 1382.2 L1607.3 1383.2 L1609.0 1384.3 L1610.6 1385.4 L1612.3 1386.4 L1614.0 1387.5 L1615.7 1388.5 L1617.4 1389.5 L1619.2 1390.5 L1620.9 1391.5 L1622.6 1392.6 L1624.3 1393.5 L1626.1 1394.5 L1627.8 1395.5 L1629.6 1396.5 L1631.4 1397.5 L1633.1 1398.4 L1634.9 1399.4 L1636.7 1400.3 L1638.5 1401.2 L1640.3 1402.2 L1642.1 1403.1 L1643.9 1404.0 L1645.7 1404.9 L1647.5 1405.8 L1649.4 1406.6 L1651.2 1407.5 L1653.1 1408.4 L1654.9 1409.2 L1656.8 1410.1 L1658.6 1410.9 L1660.5 1411.7 L1662.4 1412.6 L1664.3 1413.4 L1666.1 1414.2 L1668.0 1415.0 L1669.9 1415.8 L1671.8 1416.5 L1673.7 1417.3 L1675.6 1418.1 L1677.6 1418.8 L1679.5 1419.5 L1681.4 1420.3 L1683.3 1421.0 L1685.2 1421.7 L1687.2 1422.4 L1689.1 1423.1 L1691.1 1423.8 L1693.0 1424.5 L1695.0 1425.1 L1696.9 1425.8 L1698.9 1426.4 L1700.8 1427.1 L1702.8 1427.7 L1704.7 1428.3 L1706.7 1428.9 L1708.7 1429.5 L1710.6 1430.1 L1712.6 1430.7 L1714.6 1431.2 L1716.5 1431.8 L1718.5 1432.3 L1720.5 1432.9 L1722.5 1433.4 L1724.5 1433.9 L1726.4 1434.4 L1728.4 1434.9 L1730.4 1435.4 L1732.4 1435.8 L1734.4 1436.3 L1736.4 1436.8 L1738.3 1437.2 L1740.3 1437.6 L1742.3 1438.0 L1744.3 1438.4 L1746.3 1438.8 L1748.3 1439.2 L1750.2 1439.6 L1752.2 1440.0 L1754.2 1440.3 L1756.2 1440.7 L1758.2 1441.0 L1760.1 1441.3 L1762.1 1441.6 L1764.1 1441.9 L1766.1 1442.2 L1768.0 1442.5 L1770.0 1442.7 L1772.0 1443.0 L1774.0 1443.2 L1775.9 1443.5 L1777.9 1443.7 L1779.9 1443.9 L1781.8 1444.1 L1783.8 1444.3 L1785.7 1444.5 L1787.7 1444.7 L1789.7 1444.8 L1791.6 1445.0 L1793.6 1445.2 L1795.5 1445.3 L1797.5 1445.5 L1799.5 1445.6 L1801.4 1445.7 L1803.4 1445.8 L1805.3 1446.0 L1807.3 1446.1 L1809.2 1446.2 L1811.2 1446.3 L1813.2 1446.4 L1815.1 1446.5 L1817.1 1446.5 L1819.0 1446.6 L1821.0 1446.7 L1823.0 1446.8 L1824.9 1446.9 L1826.9 1446.9 L1828.8 1447.0 L1830.8 1447.1 L1832.8 1447.2 L1834.7 1447.2 L1836.7 1447.3 L1838.7 1447.4 L1840.6 1447.4 L1842.6 1447.5 L1844.6 1447.5 L1846.6 1447.6 L1848.6 1447.7 L1850.5 1447.7 L1852.5 1447.8 L1854.5 1447.9 L1856.5 1448.0 L1858.5 1448.0 L1860.5 1448.1 L1862.5 1448.2 L1864.5 1448.3 L1866.5 1448.4 L1868.5 1448.5 L1870.5 1448.6 L1872.5 1448.7 L1874.5 1448.8 L1876.5 1448.9 L1878.5 1449.0 L1880.5 1449.1 L1882.6 1449.2 L1884.6 1449.4 L1886.6 1449.5 L1888.7 1449.7 L1890.7 1449.8 L1892.7 1450.0 L1894.8 1450.2 L1896.8 1450.3 L1898.9 1450.5 L1901.0 1450.7 L1903.0 1450.9 L1905.1 1451.1 L1907.2 1451.4 L1909.2 1451.6 L1911.3 1451.8" fill="none" stroke="#737373" stroke-width="9.0" stroke-linejoin="miter" stroke-miterlimit="10" stroke-linecap="round"/>
<path d="M260.3 1345.8 L260.3 1345.8 L260.7 1344.9 L261.1 1344.0 L261.6 1343.1 L262.0 1342.2 L262.4 1341.3 L262.8 1340.4 L263.3 1339.5 L263.7 1338.5 L264.1 1337.6 L264.5 1336.7 L264.9 1335.8 L265.3 1334.9 L265.7 1334.0 L266.1 1333.0 L266.6 1332.1 L267.0 1331.2 L267.4 1330.3 L267.8 1329.4 L268.2 1328.4 L268.6 1327.5 L269.0 1326.6 L269.4 1325.7 L269.8 1324.8 L270.2 1323.8 L270.5 1322.9 L270.9 1322.0 L271.3 1321.1 L271.7 1320.1 L272.1 1319.2 L272.5 1318.3 L272.9 1317.4 L273.3 1316.4 L273.6 1315.5 L274.0 1314.6 L274.4 1313.7 L274.8 1312.7 L275.2 1311.8 L275.5 1310.9 L275.9 1309.9 L276.3 1309.0 L276.7 1308.1 L277.0 1307.2 L277.4 1306.2 L277.8 1305.3 L278.1 1304.4 L278.5 1303.4 L278.9 1302.5 L278.9 1302.5 M308.2 1211.6 L308.3 1211.3 L308.6 1210.4 L308.8 1209.4 L309.1 1208.4 L309.3 1207.5 L309.6 1206.5 L309.8 1205.5 L310.1 1204.6 L310.3 1203.6 L310.6 1202.6 L310.8 1201.7 L311.1 1200.7 L311.3 1199.7 L311.6 1198.8 L311.8 1197.8 L312.1 1196.8 L312.3 1195.8 L312.5 1194.9 L312.8 1193.9 L313.0 1192.9 L313.3 1192.0 L313.5 1191.0 L313.7 1190.0 L314.0 1189.1 L314.2 1188.1 L314.5 1187.1 L314.7 1186.2 L314.9 1185.2 L315.2 1184.2 L315.4 1183.2 L315.6 1182.3 L315.7 1182.0 M322.0 1154.5 L322.1 1154.0 L322.3 1153.0 L322.5 1152.0 L322.7 1151.1 L322.9 1150.1 L323.0 1149.6 M328.7 1122.1 L328.8 1121.7 L329.0 1120.7 L329.1 1119.7 L329.3 1118.7 L329.5 1117.7 L329.6 1117.2 M335.0 1088.4 L335.1 1088.2 L335.3 1087.2 L335.4 1086.2 L335.6 1085.3 L335.8 1084.3 L336.0 1083.3 L336.2 1082.3 L336.3 1081.3 L336.5 1080.3 L336.7 1079.3 L336.9 1078.4 L337.0 1077.4 L337.2 1076.4 L337.4 1075.4 L337.6 1074.4 L337.7 1073.4 L337.9 1072.4 L338.1 1071.5 L338.3 1070.5 L338.4 1069.5 L338.6 1068.5 L338.8 1067.5 L339.0 1066.5 L339.1 1065.5 L339.3 1064.6 L339.5 1063.6 L339.6 1062.6 L339.8 1061.6 L340.0 1060.6 L340.2 1059.6 L340.3 1058.6 L340.4 1058.4 M345.0 1031.1 L345.0 1031.0 L345.2 1030.0 L345.4 1029.0 L345.5 1028.1 L345.7 1027.1 L345.8 1026.2 M350.3 998.9 L350.4 998.4 L350.5 997.4 L350.7 996.5 L350.9 995.5 L351.0 994.5 L351.1 993.9 M355.6 965.6 L355.6 965.3 L355.8 964.4 L355.9 963.4 L356.1 962.4 L356.2 961.4 L356.4 960.4 L356.6 959.4 L356.7 958.4 L356.9 957.4 L357.0 956.4 L357.2 955.5 L357.3 954.5 L357.5 953.5 L357.6 952.5 L357.8 951.5 L357.9 950.5 L358.1 949.5 L358.2 948.5 L358.4 947.6 L358.5 946.6 L358.7 945.6 L358.8 944.6 L359.0 943.6 L359.1 942.6 L359.3 941.6 L359.4 940.6 L359.6 939.6 L359.7 938.7 L359.9 937.7 L360.0 936.7 L360.2 935.7 L360.2 935.4 M364.4 907.7 L364.4 907.5 L364.6 906.5 L364.7 905.5 L364.9 904.6 L365.0 903.6 L365.1 902.8 M369.2 875.2 L369.2 874.9 L369.4 873.9 L369.5 872.9 L369.6 871.9 L369.8 870.9 L369.9 870.2 M374.0 841.5 L374.1 841.2 L374.2 840.3 L374.4 839.3 L374.5 838.3 L374.6 837.3 L374.8 836.3 L374.9 835.3 L375.1 834.3 L375.2 833.3 L375.3 832.3 L375.5 831.3 L375.6 830.4 L375.8 829.4 L375.9 828.4 L376.1 827.4 L376.2 826.4 L376.3 825.4 L376.5 824.4 L376.6 823.4 L376.8 822.4 L376.9 821.5 L377.0 820.5 L377.2 819.5 L377.3 818.5 L377.5 817.5 L377.6 816.5 L377.8 815.5 L377.9 814.5 L378.0 813.5 L378.2 812.5 L378.3 811.6 L378.4 811.3 M382.3 783.4 L382.3 783.3 L382.5 782.4 L382.6 781.4 L382.7 780.4 L382.9 779.4 L383.0 778.4 M386.9 750.7 L387.0 750.2 L387.1 749.2 L387.3 748.2 L387.4 747.2 L387.6 746.2 L387.6 745.7 M391.7 716.8 L391.8 716.5 L391.9 715.5 L392.0 714.5 L392.2 713.5 L392.3 712.5 L392.5 711.6 L392.6 710.6 L392.7 709.6 L392.9 708.6 L393.0 707.6 L393.1 706.6 L393.3 705.6 L393.4 704.6 L393.6 703.6 L393.7 702.6 L393.8 701.7 L394.0 700.7 L394.1 699.7 L394.3 698.7 L394.4 697.7 L394.5 696.7 L394.7 695.7 L394.8 694.7 L395.0 693.7 L395.1 692.7 L395.2 691.7 L395.4 690.8 L395.5 689.8 L395.7 688.8 L395.8 687.8 L395.9 686.8 L396.0 686.6 M399.8 659.1 L399.8 659.1 L400.0 658.1 L400.1 657.1 L400.3 656.1 L400.4 655.1 L400.5 654.2 M404.4 626.8 L404.4 626.4 L404.6 625.4 L404.7 624.4 L404.9 623.4 L405.0 622.4 L405.1 621.8 M409.1 593.4 L409.1 593.2 L409.3 592.2 L409.4 591.2 L409.5 590.2 L409.7 589.2 L409.8 588.2 L410.0 587.2 L410.1 586.3 L410.2 585.3 L410.4 584.3 L410.5 583.3 L410.7 582.3 L410.8 581.3 L410.9 580.3 L411.1 579.3 L411.2 578.3 L411.4 577.3 L411.5 576.3 L411.6 575.4 L411.8 574.4 L411.9 573.4 L412.1 572.4 L412.2 571.4 L412.3 570.4 L412.5 569.4 L412.6 568.4 L412.8 567.4 L412.9 566.4 L413.0 565.4 L413.2 564.5 L413.3 563.5 L413.4 563.2 M417.3 535.4 L417.3 535.2 L417.5 534.2 L417.6 533.3 L417.8 532.3 L417.9 531.3 L418.0 530.5 M422.0 502.9 L422.0 502.6 L422.2 501.6 L422.3 500.6 L422.5 499.6 L422.6 498.6 L422.7 497.9 M427.0 469.2 L427.0 468.9 L427.2 467.9 L427.3 466.9 L427.5 465.9 L427.6 465.0 L427.8 464.0 L427.9 463.0 L428.1 462.0 L428.2 461.0 L428.4 460.0 L428.5 459.0 L428.7 458.0 L428.9 457.0 L429.0 456.1 L429.2 455.1 L429.3 454.1 L429.5 453.1 L429.6 452.1 L429.8 451.1 L429.9 450.1 L430.1 449.1 L430.2 448.2 L430.4 447.2 L430.6 446.2 L430.7 445.2 L430.9 444.2 L431.0 443.2 L431.2 442.2 L431.3 441.2 L431.5 440.3 L431.7 439.3 L431.7 439.0 M436.3 411.7 L436.3 411.7 L436.5 410.7 L436.6 409.7 L436.8 408.7 L437.0 407.7 L437.1 406.8 M442.1 379.7 L442.2 379.2 L442.4 378.2 L442.6 377.3 L442.7 376.3 L442.9 375.3 L443.0 374.8 M448.7 346.7 L448.8 346.4 L449.0 345.4 L449.2 344.5 L449.4 343.5 L449.6 342.5 L449.9 341.5 L450.1 340.6 L450.3 339.6 L450.5 338.6 L450.7 337.6 L450.9 336.7 L451.1 335.7 L451.4 334.7 L451.6 333.7 L451.8 332.8 L452.0 331.8 L452.2 330.8 L452.4 329.8 L452.7 328.9 L452.9 327.9 L453.1 326.9 L453.3 325.9 L453.6 325.0 L453.8 324.0 L454.0 323.0 L454.2 322.0 L454.5 321.1 L454.7 320.1 L454.9 319.1 L455.1 318.2 L455.4 317.2 L455.4 316.9 M462.0 290.7 L462.0 290.5 L462.3 289.5 L462.5 288.6 L462.8 287.6 L463.0 286.6 L463.2 285.9 M471.5 260.1 L471.5 259.9 L471.9 258.9 L472.3 258.0 L472.7 257.1 L473.1 256.1 L473.4 255.5 M489.0 232.5 L489.1 232.4 L489.9 231.9 L490.6 231.5 L491.4 231.1 L492.2 230.7 L493.0 230.5 L493.8 230.2 L494.6 230.1 L495.4 230.0 L496.2 230.0 L497.0 230.0 L497.8 230.1 L498.6 230.3 L499.4 230.5 L500.2 230.8 L500.9 231.2 L501.6 231.6 L502.4 232.0 L503.1 232.6 L503.8 233.2 L504.4 233.8 L505.1 234.5 L505.7 235.2 L506.4 235.9 L507.0 236.7 L507.6 237.5 L508.2 238.4 L508.8 239.3 L509.3 240.2 L509.9 241.1 L510.5 242.0 L511.0 242.9 L511.5 243.9 L512.1 244.8 M523.5 270.8 L523.6 271.0 L523.9 271.9 L524.2 272.9 L524.6 273.9 L524.9 274.8 L525.1 275.5 M532.5 302.7 L532.5 302.7 L532.8 303.6 L533.0 304.6 L533.2 305.6 L533.5 306.5 L533.7 307.5 L533.7 307.5 M540.3 336.2 L540.4 336.5 L540.6 337.5 L540.8 338.5 L541.0 339.4 L541.2 340.4 L541.4 341.4 L541.7 342.4 L541.9 343.3 L542.1 344.3 L542.3 345.3 L542.5 346.2 L542.7 347.2 L542.9 348.2 L543.1 349.2 L543.3 350.1 L543.6 351.1 L543.8 352.1 L544.0 353.1 L544.2 354.0 L544.4 355.0 L544.6 356.0 L544.8 357.0 L545.0 357.9 L545.2 358.9 L545.4 359.9 L545.6 360.9 L545.8 361.8 L546.0 362.8 L546.2 363.8 L546.5 364.8 L546.7 365.7 L546.7 366.0 M552.3 393.5 L552.3 393.6 L552.5 394.6 L552.7 395.6 L552.9 396.5 L553.1 397.5 L553.3 398.4 M558.5 425.8 L558.5 426.0 L558.7 427.0 L558.9 428.0 L559.1 428.9 L559.3 429.9 L559.4 430.7 M564.6 459.3 L564.6 459.5 L564.8 460.5 L565.0 461.5 L565.2 462.4 L565.3 463.4 L565.5 464.4 L565.7 465.4 L565.8 466.4 L566.0 467.4 L566.2 468.4 L566.4 469.3 L566.5 470.3 L566.7 471.3 L566.9 472.3 L567.1 473.3 L567.2 474.3 L567.4 475.3 L567.6 476.3 L567.7 477.2 L567.9 478.2 L568.1 479.2 L568.3 480.2 L568.4 481.2 L568.6 482.2 L568.8 483.2 L568.9 484.2 L569.1 485.1 L569.3 486.1 L569.5 487.1 L569.6 488.1 L569.8 489.1 L569.8 489.3 M574.5 516.7 L574.5 516.8 L574.6 517.7 L574.8 518.7 L575.0 519.7 L575.1 520.7 L575.3 521.6 M579.8 548.9 L579.9 549.4 L580.1 550.3 L580.2 551.3 L580.4 552.3 L580.5 553.3 L580.6 553.8 M585.3 582.2 L585.3 582.4 L585.5 583.4 L585.6 584.4 L585.8 585.4 L586.0 586.4 L586.1 587.4 L586.3 588.4 L586.4 589.3 L586.6 590.3 L586.8 591.3 L586.9 592.3 L587.1 593.3 L587.3 594.3 L587.4 595.3 L587.6 596.3 L587.7 597.2 L587.9 598.2 L588.1 599.2 L588.2 600.2 L588.4 601.2 L588.5 602.2 L588.7 603.2 L588.9 604.1 L589.0 605.1 L589.2 606.1 L589.4 607.1 L589.5 608.1 L589.7 609.1 L589.8 610.1 L590.0 611.0 L590.2 612.0 L590.2 612.3 M594.8 640.1 L594.8 640.1 L595.0 641.1 L595.2 642.1 L595.3 643.1 L595.5 644.1 L595.6 645.0 M600.3 672.6 L600.4 673.1 L600.6 674.1 L600.8 675.1 L600.9 676.1 L601.1 677.1 L601.2 677.6 M606.3 706.3 L606.3 706.6 L606.5 707.6 L606.7 708.5 L606.8 709.5 L607.0 710.5 L607.2 711.5 L607.4 712.5 L607.6 713.5 L607.7 714.4 L607.9 715.4 L608.1 716.4 L608.3 717.4 L608.4 718.4 L608.6 719.4 L608.8 720.3 L609.0 721.3 L609.2 722.3 L609.3 723.3 L609.5 724.3 L609.7 725.2 L609.9 726.2 L610.1 727.2 L610.3 728.2 L610.4 729.2 L610.6 730.2 L610.8 731.1 L611.0 732.1 L611.2 733.1 L611.4 734.1 L611.5 735.1 L611.7 736.1 L611.8 736.3 M617.1 764.1 L617.2 764.5 L617.4 765.5 L617.6 766.5 L617.8 767.5 L618.0 768.5 L618.1 769.0 M623.7 796.5 L623.8 796.9 L624.0 797.9 L624.2 798.9 L624.5 799.9 L624.7 800.9 L624.8 801.4 M631.1 830.0 L631.1 830.2 L631.3 831.2 L631.6 832.2 L631.8 833.2 L632.0 834.2 L632.2 835.1 L632.5 836.1 L632.7 837.1 L632.9 838.1 L633.1 839.0 L633.4 840.0 L633.6 841.0 L633.8 842.0 L634.0 843.0 L634.3 843.9 L634.5 844.9 L634.7 845.9 L635.0 846.9 L635.2 847.8 L635.4 848.8 L635.6 849.8 L635.9 850.8 L636.1 851.7 L636.3 852.7 L636.6 853.7 L636.8 854.7 L637.0 855.6 L637.3 856.6 L637.5 857.6 L637.7 858.5 L638.0 859.5 L638.0 859.7 M644.6 885.9 L644.7 886.2 L644.9 887.1 L645.2 888.1 L645.4 889.1 L645.7 890.0 L645.9 890.8 M653.0 916.9 L653.1 917.3 L653.4 918.3 L653.7 919.2 L653.9 920.2 L654.2 921.1 L654.4 921.7 M663.0 948.4 L663.0 948.5 L663.4 949.4 L663.7 950.3 L664.1 951.3 L664.5 952.2 L664.8 953.1 L665.2 954.1 L665.6 955.0 L666.0 955.9 L666.4 956.9 L666.8 957.8 L667.2 958.7 L667.6 959.6 L668.0 960.6 L668.5 961.5 L668.9 962.4 L669.3 963.3 L669.8 964.3 L670.2 965.2 L670.7 966.1 L671.2 967.0 L671.7 967.9 L672.1 968.9 L672.6 969.8 L673.1 970.7 L673.6 971.6 L674.2 972.5 L674.7 973.4 L675.2 974.3 L675.8 975.3 L676.1 975.8 M692.9 996.7 L693.0 996.8 L693.8 997.4 L694.5 998.0 L695.3 998.6 L696.1 999.1 L696.9 999.7 L696.9 999.7 M722.7 1001.4 L722.8 1001.3 L723.8 1000.9 L724.7 1000.5 L725.6 1000.1 L726.5 999.6 L727.2 999.2 M748.1 981.0 L748.4 980.6 L749.1 979.7 L749.7 978.9 L750.3 978.1 L750.9 977.2 L751.5 976.4 L752.1 975.6 L752.6 974.7 L753.2 973.9 L753.7 973.0 L754.3 972.2 L754.8 971.3 L755.3 970.4 L755.8 969.6 L756.3 968.7 L756.8 967.8 L757.3 967.0 L757.7 966.1 L758.2 965.2 L758.7 964.3 L759.1 963.5 L759.6 962.6 L760.0 961.7 L760.5 960.8 L760.9 959.9 L761.3 959.0 L761.8 958.2 L762.2 957.3 L762.6 956.4 L763.1 955.5 L763.5 954.7 M775.8 928.6 L775.8 928.6 L776.2 927.7 L776.7 926.8 L777.1 925.9 L777.5 925.0 L777.9 924.1 M789.7 898.2 L789.7 898.2 L790.1 897.2 L790.5 896.3 L790.9 895.4 L791.3 894.5 L791.7 893.6 M803.4 866.1 L803.4 865.9 L803.8 865.0 L804.2 864.1 L804.6 863.1 L805.0 862.2 L805.3 861.3 L805.7 860.4 L806.1 859.4 L806.5 858.5 L806.9 857.6 L807.2 856.7 L807.6 855.7 L808.0 854.8 L808.4 853.9 L808.7 852.9 L809.1 852.0 L809.5 851.1 L809.8 850.1 L810.2 849.2 L810.6 848.3 L811.0 847.3 L811.3 846.4 L811.7 845.5 L812.1 844.6 L812.4 843.6 L812.8 842.7 L813.2 841.8 L813.5 840.8 L813.9 839.9 L814.3 839.0 L814.6 838.0 L814.7 837.8 M824.7 811.9 L824.7 811.8 L825.1 810.9 L825.4 809.9 L825.8 809.0 L826.1 808.1 L826.4 807.3 M836.0 781.3 L836.0 781.3 L836.4 780.4 L836.7 779.4 L837.1 778.5 L837.4 777.5 L837.8 776.6 M847.6 749.6 L847.7 749.4 L848.0 748.4 L848.4 747.5 L848.7 746.5 L849.1 745.6 L849.4 744.7 L849.7 743.7 L850.1 742.8 L850.4 741.9 L850.8 740.9 L851.1 740.0 L851.5 739.0 L851.8 738.1 L852.1 737.2 L852.5 736.2 L852.8 735.3 L853.2 734.3 L853.5 733.4 L853.9 732.5 L854.2 731.5 L854.5 730.6 L854.9 729.7 L855.2 728.7 L855.6 727.8 L855.9 726.8 L856.3 725.9 L856.6 725.0 L856.9 724.0 L857.3 723.1 L857.6 722.2 L858.0 721.2 L858.1 721.0 M868.0 694.6 L868.0 694.6 L868.3 693.7 L868.7 692.7 L869.0 691.8 L869.4 690.9 L869.7 690.0 M880.0 664.0 L880.2 663.5 L880.6 662.6 L880.9 661.7 L881.3 660.7 L881.7 659.8 L881.9 659.3 M893.3 632.5 L893.4 632.3 L893.8 631.4 L894.2 630.4 L894.6 629.5 L895.0 628.6 L895.4 627.7 L895.8 626.8 L896.2 625.9 L896.7 625.0 L897.1 624.1 L897.5 623.1 L897.9 622.2 L898.3 621.3 L898.7 620.4 L899.1 619.5 L899.6 618.6 L900.0 617.7 L900.4 616.8 L900.8 615.9 L901.2 615.0 L901.7 614.1 L902.1 613.2 L902.5 612.2 L902.9 611.3 L903.4 610.4 L903.8 609.5 L904.2 608.6 L904.7 607.7 L905.1 606.8 L905.5 605.9 L906.0 605.0 L906.1 604.8 M918.7 579.9 L918.7 579.9 L919.1 579.0 L919.6 578.1 L920.1 577.2 L920.6 576.3 L921.0 575.5 M934.7 551.3 L934.8 551.2 L935.3 550.3 L935.8 549.4 L936.3 548.6 L936.9 547.7 L937.3 547.0 M953.8 523.4 L953.9 523.3 L954.5 522.6 L955.2 521.9 L955.8 521.1 L956.5 520.4 L957.2 519.7 L957.9 519.0 L958.6 518.3 L959.3 517.6 L960.0 516.9 L960.7 516.3 L961.4 515.6 L962.1 514.9 L962.9 514.3 L963.6 513.7 L964.4 513.1 L965.1 512.4 L965.9 511.8 L966.7 511.3 L967.4 510.7 L968.2 510.1 L969.0 509.6 L969.8 509.0 L970.7 508.5 L971.5 508.0 L972.3 507.5 L973.2 507.0 L974.0 506.5 L974.9 506.0 L975.8 505.6 L976.7 505.1 L977.6 504.7 L977.6 504.7 M1005.3 499.3 L1005.3 499.3 L1006.3 499.4 L1007.3 499.5 L1008.3 499.7 L1009.2 499.8 L1010.2 500.0 L1010.2 500.0 M1034.6 513.3 L1034.9 513.5 L1035.6 514.2 L1036.4 514.9 L1037.1 515.7 L1037.8 516.4 L1038.2 516.8 M1056.0 540.2 L1056.1 540.4 L1056.7 541.3 L1057.2 542.2 L1057.8 543.1 L1058.4 544.0 L1058.9 544.8 L1059.5 545.7 L1060.0 546.6 L1060.5 547.5 L1061.1 548.3 L1061.6 549.2 L1062.2 550.1 L1062.7 551.0 L1063.2 551.8 L1063.7 552.7 L1064.3 553.6 L1064.8 554.5 L1065.3 555.4 L1065.8 556.2 L1066.3 557.1 L1066.8 558.0 L1067.3 558.9 L1067.8 559.8 L1068.3 560.6 L1068.8 561.5 L1069.3 562.4 L1069.8 563.3 L1070.3 564.1 L1070.8 565.0 L1071.3 565.9 L1071.5 566.4 M1084.5 591.5 L1084.5 591.5 L1084.9 592.4 L1085.4 593.3 L1085.8 594.2 L1086.2 595.1 L1086.7 596.0 L1086.7 596.0 M1098.6 621.4 L1098.7 621.6 L1099.1 622.5 L1099.5 623.4 L1099.9 624.3 L1100.3 625.2 L1100.6 625.9 M1112.3 652.7 L1112.4 653.0 L1112.8 653.9 L1113.2 654.8 L1113.6 655.8 L1113.9 656.7 L1114.3 657.6 L1114.7 658.5 L1115.1 659.4 L1115.5 660.4 L1115.9 661.3 L1116.2 662.2 L1116.6 663.1 L1117.0 664.0 L1117.4 665.0 L1117.8 665.9 L1118.1 666.8 L1118.5 667.7 L1118.9 668.6 L1119.3 669.6 L1119.7 670.5 L1120.0 671.4 L1120.4 672.3 L1120.8 673.3 L1121.2 674.2 L1121.5 675.1 L1121.9 676.0 L1122.3 677.0 L1122.7 677.9 L1123.0 678.8 L1123.4 679.7 L1123.8 680.7 L1123.9 680.9 M1134.3 707.4 L1134.4 707.6 L1134.7 708.6 L1135.1 709.5 L1135.4 710.4 L1135.8 711.4 L1136.1 712.1 M1146.0 738.4 L1146.0 738.5 L1146.4 739.5 L1146.7 740.4 L1147.1 741.3 L1147.4 742.3 L1147.7 743.1 M1157.9 770.8 L1157.9 771.0 L1158.3 771.9 L1158.6 772.9 L1159.0 773.8 L1159.3 774.8 L1159.7 775.7 L1160.0 776.6 L1160.3 777.6 L1160.7 778.5 L1161.0 779.5 L1161.4 780.4 L1161.7 781.4 L1162.0 782.3 L1162.4 783.2 L1162.7 784.2 L1163.1 785.1 L1163.4 786.1 L1163.7 787.0 L1164.1 788.0 L1164.4 788.9 L1164.8 789.8 L1165.1 790.8 L1165.5 791.7 L1165.8 792.7 L1166.1 793.6 L1166.5 794.6 L1166.8 795.5 L1167.2 796.4 L1167.5 797.4 L1167.8 798.3 L1168.2 799.3 L1168.2 799.5 M1177.7 825.6 L1177.7 825.7 L1178.1 826.6 L1178.4 827.6 L1178.7 828.5 L1179.1 829.4 L1179.4 830.3 M1188.9 856.3 L1189.1 856.7 L1189.4 857.7 L1189.7 858.6 L1190.1 859.6 L1190.4 860.5 L1190.6 861.0 M1200.7 887.9 L1200.8 888.2 L1201.1 889.1 L1201.5 890.0 L1201.8 891.0 L1202.2 891.9 L1202.5 892.8 L1202.9 893.8 L1203.2 894.7 L1203.6 895.7 L1203.9 896.6 L1204.3 897.5 L1204.7 898.5 L1205.0 899.4 L1205.4 900.3 L1205.7 901.3 L1206.1 902.2 L1206.4 903.1 L1206.8 904.1 L1207.2 905.0 L1207.5 905.9 L1207.9 906.9 L1208.2 907.8 L1208.6 908.7 L1208.9 909.7 L1209.3 910.6 L1209.7 911.5 L1210.0 912.5 L1210.4 913.4 L1210.7 914.3 L1211.1 915.3 L1211.5 916.2 L1211.6 916.4 M1221.8 942.3 L1221.9 942.7 L1222.3 943.6 L1222.7 944.5 L1223.0 945.5 L1223.4 946.4 L1223.6 946.9 M1234.2 972.6 L1234.2 972.7 L1234.6 973.6 L1235.0 974.6 L1235.4 975.5 L1235.8 976.4 L1236.1 977.2 M1247.5 1003.7 L1247.6 1003.9 L1248.0 1004.8 L1248.4 1005.7 L1248.8 1006.7 L1249.2 1007.6 L1249.7 1008.5 L1250.1 1009.4 L1250.5 1010.3 L1250.9 1011.2 L1251.3 1012.1 L1251.7 1013.0 L1252.1 1013.9 L1252.5 1014.9 L1252.9 1015.8 L1253.3 1016.7 L1253.7 1017.6 L1254.1 1018.5 L1254.6 1019.4 L1255.0 1020.3 L1255.4 1021.2 L1255.8 1022.1 L1256.2 1023.0 L1256.6 1023.9 L1257.0 1024.9 L1257.5 1025.8 L1257.9 1026.7 L1258.3 1027.6 L1258.7 1028.5 L1259.1 1029.4 L1259.6 1030.3 L1260.0 1031.2 L1260.1 1031.4 M1271.8 1056.1 L1272.0 1056.4 L1272.4 1057.3 L1272.9 1058.2 L1273.3 1059.1 L1273.8 1060.0 L1274.1 1060.6 M1286.4 1085.0 L1286.7 1085.5 L1287.1 1086.4 L1287.6 1087.2 L1288.0 1088.1 L1288.5 1089.0 L1288.7 1089.5 M1302.3 1114.3 L1302.4 1114.5 L1302.9 1115.4 L1303.4 1116.3 L1303.9 1117.2 L1304.3 1118.0 L1304.8 1118.9 L1305.3 1119.8 L1305.8 1120.6 L1306.3 1121.5 L1306.8 1122.4 L1307.3 1123.2 L1307.8 1124.1 L1308.3 1125.0 L1308.9 1125.8 L1309.4 1126.7 L1309.9 1127.6 L1310.4 1128.4 L1310.9 1129.3 L1311.4 1130.2 L1311.9 1131.0 L1312.4 1131.9 L1312.9 1132.7 L1313.4 1133.6 L1314.0 1134.5 L1314.5 1135.3 L1315.0 1136.2 L1315.5 1137.0 L1316.0 1137.9 L1316.6 1138.7 L1317.1 1139.6 L1317.6 1140.4 L1317.7 1140.6 M1332.4 1163.3 L1332.5 1163.6 L1333.1 1164.4 L1333.7 1165.2 L1334.2 1166.0 L1334.8 1166.9 L1335.2 1167.4 M1351.2 1189.3 L1351.3 1189.5 L1351.9 1190.3 L1352.5 1191.1 L1353.2 1191.8 L1353.8 1192.6 L1354.3 1193.3 M1372.3 1214.7 L1372.4 1214.8 L1373.1 1215.6 L1373.8 1216.3 L1374.4 1217.1 L1375.1 1217.8 L1375.8 1218.6 L1376.4 1219.3 L1377.1 1220.0 L1377.8 1220.8 L1378.5 1221.5 L1379.2 1222.2 L1379.8 1223.0 L1380.5 1223.7 L1381.2 1224.4 L1381.9 1225.2 L1382.6 1225.9 L1383.3 1226.6 L1384.0 1227.3 L1384.7 1228.1 L1385.4 1228.8 L1386.1 1229.5 L1386.8 1230.2 L1387.5 1230.9 L1388.2 1231.6 L1388.9 1232.4 L1389.6 1233.1 L1390.3 1233.8 L1391.0 1234.5 L1391.7 1235.2 L1392.4 1235.9 L1393.1 1236.6 L1393.3 1236.8 M1414.1 1256.3 L1414.3 1256.4 L1415.1 1257.1 L1415.8 1257.8 L1416.6 1258.4 L1417.3 1259.1 L1417.9 1259.6 M1439.8 1277.5 L1440.1 1277.8 L1440.9 1278.4 L1441.7 1279.0 L1442.5 1279.6 L1443.3 1280.2 L1443.7 1280.5 M1467.8 1297.8 L1468.0 1297.9 L1468.9 1298.5 L1469.7 1299.1 L1470.5 1299.6 L1471.3 1300.2 L1472.2 1300.7 L1473.0 1301.3 L1473.8 1301.8 L1474.7 1302.4 L1475.5 1302.9 L1476.3 1303.4 L1477.2 1304.0 L1478.0 1304.5 L1478.9 1305.1 L1479.7 1305.6 L1480.5 1306.1 L1481.4 1306.7 L1482.2 1307.2 L1483.1 1307.8 L1483.9 1308.3 L1484.7 1308.8 L1485.6 1309.3 L1486.4 1309.9 L1487.3 1310.4 L1488.1 1310.9 L1489.0 1311.4 L1489.8 1312.0 L1490.7 1312.5 L1491.5 1313.0 L1492.4 1313.5 L1493.2 1314.0 L1493.5 1314.2 M1518.3 1328.4 L1518.4 1328.4 L1519.2 1328.9 L1520.1 1329.3 L1521.0 1329.8 L1521.9 1330.3 L1522.7 1330.7 M1547.9 1343.5 L1548.2 1343.6 L1549.1 1344.0 L1550.0 1344.5 L1550.9 1344.9 L1551.8 1345.3 L1552.4 1345.6 M1579.4 1357.7 L1579.6 1357.8 L1580.6 1358.2 L1581.5 1358.6 L1582.4 1359.0 L1583.3 1359.4 L1584.3 1359.8 L1585.2 1360.2 L1586.1 1360.6 L1587.0 1360.9 L1588.0 1361.3 L1588.9 1361.7 L1589.8 1362.1 L1590.7 1362.5 L1591.7 1362.8 L1592.6 1363.2 L1593.5 1363.6 L1594.5 1364.0 L1595.4 1364.3 L1596.3 1364.7 L1597.3 1365.1 L1598.2 1365.5 L1599.1 1365.8 L1600.1 1366.2 L1601.0 1366.6 L1601.9 1366.9 L1602.9 1367.3 L1603.8 1367.7 L1604.7 1368.0 L1605.7 1368.4 L1606.6 1368.7 L1607.5 1369.1 L1607.7 1369.2 M1633.8 1378.7 L1633.9 1378.8 L1634.8 1379.1 L1635.8 1379.4 L1636.7 1379.7 L1637.7 1380.1 L1638.5 1380.4 M1664.8 1389.0 L1664.8 1389.0 L1665.8 1389.3 L1666.7 1389.6 L1667.7 1389.9 L1668.6 1390.2 L1669.6 1390.5 M1697.1 1398.7 L1697.4 1398.7 L1698.4 1399.0 L1699.3 1399.3 L1700.3 1399.5 L1701.3 1399.8 L1702.2 1400.1 L1703.2 1400.3 L1704.1 1400.6 L1705.1 1400.9 L1706.1 1401.1 L1707.0 1401.4 L1708.0 1401.7 L1709.0 1401.9 L1709.9 1402.2 L1710.9 1402.4 L1711.9 1402.7 L1712.8 1403.0 L1713.8 1403.2 L1714.7 1403.5 L1715.7 1403.7 L1716.7 1404.0 L1717.6 1404.2 L1718.6 1404.5 L1719.6 1404.7 L1720.5 1405.0 L1721.5 1405.2 L1722.5 1405.5 L1723.4 1405.7 L1724.4 1406.0 L1725.4 1406.2 L1726.3 1406.5 L1726.6 1406.5 M1754.0 1413.1 L1754.0 1413.1 L1755.0 1413.3 L1756.0 1413.5 L1756.9 1413.8 L1757.9 1414.0 L1758.9 1414.2 M1786.3 1419.9 L1786.7 1420.0 L1787.7 1420.2 L1788.7 1420.4 L1789.7 1420.6 L1790.6 1420.8 L1791.2 1420.9 M1819.9 1426.0 L1820.1 1426.0 L1821.1 1426.2 L1822.1 1426.4 L1823.1 1426.5 L1824.1 1426.7 L1825.1 1426.9 L1826.0 1427.0 L1827.0 1427.2 L1828.0 1427.3 L1829.0 1427.5 L1830.0 1427.6 L1831.0 1427.8 L1832.0 1427.9 L1833.0 1428.1 L1833.9 1428.3 L1834.9 1428.4 L1835.9 1428.6 L1836.9 1428.7 L1837.9 1428.9 L1838.9 1429.0 L1839.9 1429.2 L1840.9 1429.3 L1841.9 1429.4 L1842.9 1429.6 L1843.8 1429.7 L1844.8 1429.9 L1845.8 1430.0 L1846.8 1430.2 L1847.8 1430.3 L1848.8 1430.4 L1849.8 1430.6 L1850.0 1430.6 M1877.3 1434.1 L1877.6 1434.1 L1878.6 1434.3 L1879.6 1434.4 L1880.6 1434.5 L1881.6 1434.6 L1882.3 1434.7 M1909.6 1437.4 L1910.1 1437.5 L1911.1 1437.6 M289.0 1274.7 L289.2 1274.3 L289.5 1273.4 L289.8 1272.5 L290.1 1271.5 L290.5 1270.6 L290.7 1270.0 M299.0 1243.8 L299.1 1243.5 L299.4 1242.5 L299.7 1241.6 L300.0 1240.6 L300.3 1239.7 L300.5 1239.0" fill="none" stroke="#ff4040" stroke-width="9.0" stroke-linejoin="round" stroke-linecap="round"/>
<path d="M260.3 1345.8 L260.7 1344.9 L261.1 1344.0 L261.6 1343.1 L262.0 1342.2 L262.4 1341.3 L262.8 1340.4 L263.3 1339.5 L263.7 1338.5 L264.1 1337.6 L264.5 1336.7 L264.9 1335.8 L265.3 1334.9 L265.7 1334.0" fill="none" stroke="#ff0000" stroke-width="9.0" stroke-linecap="butt"/>
<circle cx="260.3" cy="1345.8" r="4.5" fill="#ff0000"/>
<path d="M299.4 1411.0 L299.4 1411.0 L300.2 1410.4 L301.1 1409.8 L301.9 1409.2 L302.7 1408.6 L303.5 1408.0 L304.3 1407.3 L305.1 1406.7 L305.9 1406.1 L306.6 1405.4 L307.4 1404.8 L308.2 1404.1 L309.0 1403.5 L309.7 1402.8 L310.5 1402.2 L311.2 1401.5 L312.0 1400.9 L312.7 1400.2 L313.5 1399.5 L314.2 1398.8 L314.9 1398.1 L315.6 1397.5 L316.4 1396.8 L317.1 1396.1 M370.2 1310.6 L370.2 1310.5 L370.6 1309.5 L371.0 1308.6 L371.4 1307.7 L371.8 1306.7 L372.2 1305.8 L372.5 1304.9 L372.9 1303.9 L373.3 1303.0 L373.7 1302.1 L374.1 1301.1 L374.4 1300.2 L374.8 1299.2 L375.2 1298.3 L375.6 1297.4 L375.9 1296.4 L376.3 1295.5 L376.7 1294.5 L377.0 1293.6 L377.4 1292.7 L377.8 1291.7 L378.1 1290.8 L378.5 1289.9 L378.9 1288.9 L379.2 1288.0 L379.6 1287.0 L379.9 1286.1 L380.3 1285.2 L380.7 1284.2 L381.0 1283.3 L381.4 1282.3 L381.4 1282.2 M391.3 1256.0 L391.4 1255.7 L391.7 1254.8 L392.0 1253.8 L392.4 1252.9 L392.7 1252.0 L393.0 1251.3 M402.6 1225.1 L402.6 1225.0 L403.0 1224.1 L403.3 1223.2 L403.7 1222.2 L404.0 1221.3 L404.3 1220.4 M414.5 1193.2 L414.6 1193.0 L414.9 1192.0 L415.3 1191.1 L415.6 1190.2 L416.0 1189.2 L416.3 1188.3 L416.7 1187.4 L417.0 1186.4 L417.4 1185.5 L417.8 1184.6 L418.1 1183.6 L418.5 1182.7 L418.8 1181.8 L419.2 1180.8 L419.5 1179.9 L419.9 1179.0 L420.3 1178.0 L420.6 1177.1 L421.0 1176.2 L421.4 1175.2 L421.7 1174.3 L422.1 1173.4 L422.5 1172.4 L422.8 1171.5 L423.2 1170.6 L423.6 1169.6 L423.9 1168.7 L424.3 1167.7 L424.7 1166.8 L425.0 1165.9 L425.4 1164.9 L425.5 1164.8 M435.5 1140.3 L435.6 1139.9 L436.0 1139.0 L436.4 1138.0 L436.8 1137.1 L437.2 1136.1 L437.4 1135.7 M449.1 1111.6 L449.3 1111.3 L449.8 1110.4 L450.4 1109.6 L450.9 1108.8 L451.4 1107.9 L451.8 1107.4 M471.3 1088.6 L471.4 1088.5 L472.2 1088.1 L473.1 1087.6 L474.0 1087.2 L474.9 1086.8 L475.8 1086.4 L476.7 1086.0 L477.7 1085.7 L478.6 1085.4 L479.6 1085.2 L480.5 1085.0 L481.5 1084.8 L482.5 1084.7 L483.4 1084.7 L484.4 1084.7 L485.4 1084.8 L486.3 1084.9 L487.3 1085.0 L488.2 1085.2 L489.1 1085.4 L490.0 1085.7 L490.9 1085.9 L491.8 1086.3 L492.7 1086.6 L493.5 1087.0 L494.4 1087.4 L495.2 1087.8 L496.1 1088.3 L496.9 1088.8 L497.7 1089.3 L498.5 1089.8 L499.3 1090.4 L499.7 1090.7 M517.9 1112.0 L518.2 1112.5 L518.8 1113.3 L519.4 1114.2 L520.0 1115.1 L520.6 1116.0 L520.7 1116.2 M536.1 1139.6 L536.1 1139.6 L536.7 1140.5 L537.2 1141.3 L537.8 1142.1 L538.3 1142.9 L538.9 1143.7 L538.9 1143.8 M556.0 1167.4 L556.1 1167.5 L556.7 1168.3 L557.4 1169.1 L558.0 1169.9 L558.6 1170.6 L559.3 1171.4 L559.9 1172.2 L560.6 1172.9 L561.2 1173.7 L561.9 1174.5 L562.6 1175.2 L563.3 1176.0 L563.9 1176.7 L564.6 1177.5 L565.3 1178.2 L566.0 1178.9 L566.7 1179.6 L567.4 1180.4 L568.1 1181.1 L568.9 1181.8 L569.6 1182.5 L570.3 1183.2 L571.1 1183.8 L571.8 1184.5 L572.6 1185.2 L573.4 1185.8 L574.1 1186.5 L574.9 1187.1 L575.7 1187.7 L576.5 1188.3 L577.3 1188.9 L577.4 1189.0 M602.3 1199.8 L602.4 1199.8 L603.4 1200.0 L604.4 1200.1 L605.5 1200.1 L606.5 1200.2 L607.3 1200.2 M632.8 1191.3 L632.9 1191.3 L633.7 1190.7 L634.6 1190.2 L635.4 1189.6 L636.3 1189.1 L637.0 1188.6 M659.9 1171.8 L660.1 1171.6 L660.9 1170.9 L661.7 1170.3 L662.4 1169.7 L663.2 1169.0 L663.9 1168.4 L664.7 1167.7 L665.5 1167.1 L666.2 1166.4 L667.0 1165.8 L667.7 1165.1 L668.5 1164.5 L669.2 1163.8 L669.9 1163.2 L670.7 1162.5 L671.4 1161.8 L672.2 1161.2 L672.9 1160.5 L673.6 1159.8 L674.4 1159.2 L675.1 1158.5 L675.8 1157.8 L676.6 1157.1 L677.3 1156.4 L678.0 1155.8 L678.7 1155.1 L679.4 1154.4 L680.2 1153.7 L680.9 1153.0 L681.6 1152.3 L682.3 1151.6 L682.6 1151.4 M702.4 1131.1 L702.5 1131.0 L703.1 1130.3 L703.8 1129.5 L704.5 1128.8 L705.2 1128.1 L705.8 1127.4 M724.7 1106.5 L725.0 1106.2 L725.7 1105.5 L726.4 1104.7 L727.0 1104.0 L727.7 1103.2 L728.1 1102.8 M747.9 1081.0 L748.0 1080.9 L748.7 1080.2 L749.4 1079.4 L750.1 1078.7 L750.7 1078.0 L751.4 1077.2 L752.1 1076.5 L752.8 1075.7 L753.5 1075.0 L754.2 1074.3 L754.8 1073.5 L755.5 1072.8 L756.2 1072.1 L756.9 1071.3 L757.6 1070.6 L758.3 1069.9 L759.0 1069.1 L759.6 1068.4 L760.3 1067.6 L761.0 1066.9 L761.7 1066.2 L762.4 1065.4 L763.1 1064.7 L763.8 1064.0 L764.5 1063.3 L765.2 1062.5 L765.9 1061.8 L766.5 1061.1 L767.2 1060.3 L767.9 1059.6 L768.6 1058.9 L768.7 1058.8 M788.5 1038.6 L788.6 1038.4 L789.4 1037.7 L790.1 1037.0 L790.8 1036.3 L791.5 1035.6 L792.1 1035.0 M812.5 1015.7 L812.5 1015.7 L813.2 1015.0 L814.0 1014.3 L814.7 1013.7 L815.4 1013.0 L816.2 1012.4 M838.4 993.3 L838.7 993.0 L839.5 992.4 L840.3 991.7 L841.0 991.1 L841.8 990.5 L842.6 989.9 L843.4 989.3 L844.1 988.7 L844.9 988.0 L845.7 987.4 L846.4 986.8 L847.2 986.2 L848.0 985.6 L848.8 985.0 L849.6 984.4 L850.3 983.8 L851.1 983.2 L851.9 982.6 L852.7 982.0 L853.5 981.4 L854.3 980.8 L855.1 980.2 L855.9 979.6 L856.7 979.0 L857.4 978.5 L858.2 977.9 L859.0 977.3 L859.8 976.7 L860.6 976.1 L861.4 975.5 L862.2 975.0 L862.6 974.7 M886.1 959.0 L886.3 958.9 L887.2 958.3 L888.1 957.8 L888.9 957.3 L889.8 956.7 L890.3 956.4 M914.9 943.0 L914.9 943.0 L915.9 942.5 L916.8 942.1 L917.7 941.7 L918.7 941.2 L919.4 940.9 M946.9 930.9 L947.2 930.8 L948.2 930.6 L949.2 930.4 L950.1 930.1 L951.1 929.9 L952.1 929.7 L953.0 929.5 L954.0 929.3 L955.0 929.1 L956.0 928.9 L957.0 928.7 L957.9 928.5 L958.9 928.3 L959.9 928.2 L960.9 928.0 L961.9 927.9 L962.8 927.7 L963.8 927.6 L964.8 927.5 L965.8 927.3 L966.8 927.2 L967.8 927.1 L968.7 927.0 L969.7 926.9 L970.7 926.8 L971.7 926.7 L972.7 926.7 L973.7 926.6 L974.7 926.5 L975.6 926.5 L976.6 926.4 L977.0 926.4 M1004.7 927.4 L1004.8 927.4 L1005.8 927.6 L1006.8 927.7 L1007.8 927.8 L1008.8 927.9 L1009.6 928.1 M1036.6 933.9 L1037.0 934.1 L1038.0 934.4 L1038.9 934.6 L1039.9 934.9 L1040.9 935.2 L1041.4 935.4 M1068.1 945.6 L1068.4 945.8 L1069.3 946.2 L1070.2 946.6 L1071.1 947.0 L1072.0 947.4 L1072.9 947.9 L1073.8 948.3 L1074.7 948.7 L1075.6 949.2 L1076.5 949.6 L1077.4 950.0 L1078.3 950.5 L1079.2 950.9 L1080.1 951.4 L1081.0 951.9 L1081.8 952.3 L1082.7 952.8 L1083.6 953.2 L1084.5 953.7 L1085.4 954.2 L1086.2 954.7 L1087.1 955.1 L1088.0 955.6 L1088.8 956.1 L1089.7 956.6 L1090.6 957.1 L1091.4 957.6 L1092.3 958.1 L1093.2 958.6 L1094.0 959.1 L1094.9 959.6 L1095.2 959.8 M1118.2 974.8 L1118.6 975.1 L1119.4 975.7 L1120.2 976.3 L1121.0 976.9 L1121.8 977.4 L1122.2 977.7 M1143.9 994.8 L1144.2 995.1 L1145.0 995.7 L1145.8 996.3 L1146.5 997.0 L1147.3 997.6 L1147.7 998.0 M1168.9 1017.0 L1169.0 1017.1 L1169.7 1017.8 L1170.5 1018.5 L1171.2 1019.2 L1171.9 1019.9 L1172.7 1020.6 L1173.4 1021.3 L1174.1 1022.0 L1174.9 1022.6 L1175.6 1023.3 L1176.3 1024.0 L1177.0 1024.7 L1177.8 1025.4 L1178.5 1026.1 L1179.2 1026.8 L1179.9 1027.5 L1180.7 1028.2 L1181.4 1028.9 L1182.1 1029.6 L1182.8 1030.4 L1183.5 1031.1 L1184.3 1031.8 L1185.0 1032.5 L1185.7 1033.2 L1186.4 1033.9 L1187.1 1034.6 L1187.9 1035.3 L1188.6 1036.0 L1189.3 1036.7 L1190.0 1037.4 L1190.7 1038.1 L1190.8 1038.2 M1210.3 1058.0 L1210.4 1058.2 L1211.1 1058.9 L1211.8 1059.6 L1212.5 1060.3 L1213.2 1061.1 L1213.8 1061.6 M1232.8 1081.7 L1232.9 1081.8 L1233.6 1082.5 L1234.2 1083.2 L1234.9 1084.0 L1235.6 1084.7 L1236.2 1085.4 M1255.8 1106.5 L1256.0 1106.7 L1256.6 1107.4 L1257.3 1108.2 L1258.0 1108.9 L1258.7 1109.7 L1259.3 1110.4 L1260.0 1111.1 L1260.7 1111.9 L1261.3 1112.6 L1262.0 1113.3 L1262.7 1114.1 L1263.4 1114.8 L1264.0 1115.5 L1264.7 1116.3 L1265.4 1117.0 L1266.1 1117.8 L1266.7 1118.5 L1267.4 1119.2 L1268.1 1120.0 L1268.7 1120.7 L1269.4 1121.4 L1270.1 1122.2 L1270.8 1122.9 L1271.4 1123.7 L1272.1 1124.4 L1272.8 1125.1 L1273.4 1125.9 L1274.1 1126.6 L1274.8 1127.4 L1275.5 1128.1 L1276.1 1128.8 L1276.3 1129.0 M1295.0 1149.6 L1295.2 1149.9 L1295.9 1150.6 L1296.6 1151.3 L1297.3 1152.1 L1297.9 1152.8 L1298.3 1153.3 M1317.0 1173.7 L1317.1 1173.8 L1317.8 1174.5 L1318.5 1175.2 L1319.2 1175.9 L1319.8 1176.7 L1320.4 1177.3 M1340.1 1198.3 L1340.3 1198.5 L1341.0 1199.3 L1341.6 1200.0 L1342.3 1200.7 L1343.0 1201.4 L1343.7 1202.1 L1344.4 1202.9 L1345.1 1203.6 L1345.8 1204.3 L1346.5 1205.0 L1347.2 1205.8 L1347.8 1206.5 L1348.5 1207.2 L1349.2 1207.9 L1349.9 1208.6 L1350.6 1209.4 L1351.3 1210.1 L1352.0 1210.8 L1352.7 1211.5 L1353.4 1212.2 L1354.1 1212.9 L1354.8 1213.7 L1355.5 1214.4 L1356.2 1215.1 L1356.9 1215.8 L1357.6 1216.5 L1358.3 1217.2 L1358.9 1218.0 L1359.6 1218.7 L1360.3 1219.4 L1361.0 1220.1 L1361.2 1220.3 M1381.0 1240.1 L1381.2 1240.3 L1381.9 1241.0 L1382.6 1241.7 L1383.4 1242.3 L1384.1 1243.0 L1384.6 1243.6 M1404.8 1262.7 L1404.8 1262.7 L1405.5 1263.4 L1406.3 1264.1 L1407.0 1264.8 L1407.8 1265.4 L1408.5 1266.1 M1430.1 1285.3 L1430.3 1285.5 L1431.0 1286.1 L1431.8 1286.8 L1432.5 1287.4 L1433.3 1288.1 L1434.1 1288.7 L1434.8 1289.4 L1435.6 1290.0 L1436.4 1290.7 L1437.1 1291.3 L1437.9 1292.0 L1438.7 1292.6 L1439.4 1293.3 L1440.2 1293.9 L1441.0 1294.6 L1441.7 1295.2 L1442.5 1295.9 L1443.3 1296.5 L1444.1 1297.1 L1444.8 1297.8 L1445.6 1298.4 L1446.4 1299.1 L1447.2 1299.7 L1447.9 1300.3 L1448.7 1301.0 L1449.5 1301.6 L1450.3 1302.2 L1451.0 1302.9 L1451.8 1303.5 L1452.6 1304.1 L1453.4 1304.8 L1453.5 1304.9 M1476.1 1322.4 L1476.4 1322.6 L1477.2 1323.2 L1478.0 1323.8 L1478.8 1324.4 L1479.6 1325.0 L1480.1 1325.4 M1503.2 1341.7 L1503.3 1341.7 L1504.1 1342.3 L1504.9 1342.8 L1505.7 1343.4 L1506.6 1343.9 L1507.4 1344.5 L1507.4 1344.5 M1532.4 1360.3 L1532.7 1360.5 L1533.6 1361.0 L1534.4 1361.5 L1535.3 1362.0 L1536.1 1362.5 L1537.0 1363.0 L1537.8 1363.5 L1538.7 1364.0 L1539.6 1364.5 L1540.4 1365.0 L1541.3 1365.5 L1542.1 1366.0 L1543.0 1366.5 L1543.9 1367.0 L1544.7 1367.5 L1545.6 1368.0 L1546.5 1368.5 L1547.3 1368.9 L1548.2 1369.4 L1549.1 1369.9 L1550.0 1370.4 L1550.8 1370.9 L1551.7 1371.4 L1552.6 1371.8 L1553.4 1372.3 L1554.3 1372.8 L1555.2 1373.3 L1556.1 1373.7 L1556.9 1374.2 L1557.8 1374.7 L1558.7 1375.1 L1559.0 1375.3 M1584.5 1388.0 L1584.5 1388.0 L1585.5 1388.4 L1586.4 1388.8 L1587.3 1389.2 L1588.2 1389.6 L1589.1 1390.0 M1615.1 1400.9 L1615.3 1401.0 L1616.2 1401.3 L1617.1 1401.7 L1618.1 1402.1 L1619.0 1402.4 L1619.8 1402.7 M1647.7 1412.2 L1647.9 1412.2 L1648.9 1412.5 L1649.8 1412.8 L1650.8 1413.1 L1651.7 1413.4 L1652.7 1413.7 L1653.7 1414.0 L1654.6 1414.3 L1655.6 1414.5 L1656.6 1414.8 L1657.5 1415.1 L1658.5 1415.4 L1659.5 1415.7 L1660.4 1415.9 L1661.4 1416.2 L1662.4 1416.5 L1663.3 1416.7 L1664.3 1417.0 L1665.3 1417.3 L1666.2 1417.5 L1667.2 1417.8 L1668.2 1418.1 L1669.1 1418.3 L1670.1 1418.6 L1671.1 1418.8 L1672.1 1419.1 L1673.0 1419.3 L1674.0 1419.6 L1675.0 1419.9 L1675.9 1420.1 L1676.9 1420.3 L1677.1 1420.4 M1704.1 1426.6 L1704.4 1426.7 L1705.4 1426.9 L1706.3 1427.1 L1707.3 1427.3 L1708.3 1427.5 L1708.9 1427.6 M1736.1 1432.7 L1736.5 1432.7 L1737.5 1432.9 L1738.5 1433.1 L1739.5 1433.2 L1740.5 1433.4 L1741.0 1433.5 M1769.4 1437.7 L1769.7 1437.7 L1770.7 1437.8 L1771.7 1438.0 L1772.7 1438.1 L1773.7 1438.2 L1774.7 1438.3 L1775.7 1438.5 L1776.6 1438.6 L1777.6 1438.7 L1778.6 1438.8 L1779.6 1439.0 L1780.6 1439.1 L1781.6 1439.2 L1782.6 1439.3 L1783.6 1439.4 L1784.6 1439.6 L1785.5 1439.7 L1786.5 1439.8 L1787.5 1439.9 L1788.5 1440.0 L1789.5 1440.1 L1790.5 1440.2 L1791.5 1440.4 L1792.5 1440.5 L1793.4 1440.6 L1794.4 1440.7 L1795.4 1440.8 L1796.4 1440.9 L1797.4 1441.0 L1798.4 1441.1 L1799.4 1441.2 L1799.7 1441.3 M1827.1 1443.8 L1827.5 1443.8 L1828.5 1443.9 L1829.5 1444.0 L1830.5 1444.1 L1831.5 1444.1 L1832.1 1444.2 M1859.5 1446.0 L1859.8 1446.0 L1860.8 1446.1 L1861.8 1446.1 L1862.8 1446.2 L1863.8 1446.2 L1864.5 1446.3 M1893.0 1447.5 L1893.4 1447.5 L1894.4 1447.5 L1895.4 1447.5 L1896.4 1447.6 L1897.4 1447.6 L1898.4 1447.6 L1899.4 1447.7 L1900.4 1447.7 L1901.4 1447.7 L1902.5 1447.8 L1903.5 1447.8 L1904.5 1447.8 L1905.5 1447.8 L1906.5 1447.9 L1907.5 1447.9 L1908.5 1447.9 L1909.6 1447.9 L1910.6 1448.0 L1911.1 1448.0 M339.6 1368.9 L339.8 1368.6 L340.4 1367.8 L340.9 1367.0 L341.5 1366.1 L342.0 1365.3 L342.4 1364.8 M356.2 1341.0 L356.3 1340.7 L356.8 1339.8 L357.2 1338.9 L357.7 1338.0 L358.1 1337.1 L358.4 1336.5" fill="none" stroke="#0372e6" stroke-width="9.0" stroke-linejoin="round" stroke-linecap="round"/>
<path d="M259.2 1424.3 L259.2 1424.3 L260.1 1423.8 L261.0 1423.3 L261.9 1422.8 L262.8 1422.3 L263.7 1421.8 L264.6 1421.3 L265.5 1420.7 L266.4 1420.2 L267.2 1419.6 L268.1 1419.1 L268.9 1418.5 L269.8 1418.0 L270.6 1417.4 L271.5 1416.8 L272.3 1416.3 L273.1 1415.7 L274.0 1415.1 L274.8 1414.5 L275.6 1413.9 L276.4 1413.3 L277.2 1412.7 L278.0 1412.1 L278.8 1411.5 L279.6 1410.8 L280.3 1410.2 M337.5 1327.5 L337.5 1327.5 L337.9 1326.6 L338.3 1325.6 L338.7 1324.7 L339.1 1323.8 L339.5 1322.8 L339.9 1321.9 L340.3 1321.0 L340.7 1320.0 L341.1 1319.1 L341.5 1318.2 L341.9 1317.2 L342.3 1316.3 L342.7 1315.4 L343.1 1314.4 L343.5 1313.5 L343.9 1312.6 L344.2 1311.6 L344.6 1310.7 L345.0 1309.8 L345.4 1308.8 L345.8 1307.9 L346.1 1306.9 L346.5 1306.0 L346.9 1305.1 L347.3 1304.1 L347.6 1303.2 L348.0 1302.3 L348.4 1301.3 L348.8 1300.4 L349.1 1299.4 L349.2 1299.4 M359.4 1273.1 L359.5 1272.8 L359.9 1271.9 L360.2 1270.9 L360.6 1270.0 L360.9 1269.1 L361.2 1268.5 M371.1 1242.3 L371.2 1242.1 L371.5 1241.2 L371.9 1240.2 L372.3 1239.3 L372.6 1238.4 L372.9 1237.6 M383.3 1210.4 L383.4 1210.1 L383.8 1209.2 L384.2 1208.2 L384.5 1207.3 L384.9 1206.4 L385.2 1205.5 L385.6 1204.5 L386.0 1203.6 L386.3 1202.7 L386.7 1201.8 L387.0 1200.8 L387.4 1199.9 L387.8 1199.0 L388.1 1198.0 L388.5 1197.1 L388.9 1196.2 L389.2 1195.3 L389.6 1194.3 L390.0 1193.4 L390.3 1192.5 L390.7 1191.6 L391.1 1190.6 L391.4 1189.7 L391.8 1188.8 L392.2 1187.8 L392.6 1186.9 L392.9 1186.0 L393.3 1185.1 L393.7 1184.1 L394.1 1183.2 L394.4 1182.3 L394.5 1182.0 M404.9 1157.0 L405.1 1156.7 L405.5 1155.8 L405.9 1154.9 L406.3 1153.9 L406.7 1153.0 L406.9 1152.4 M419.0 1128.0 L419.2 1127.7 L419.7 1126.8 L420.3 1126.0 L420.8 1125.1 L421.3 1124.3 L421.7 1123.8 M441.1 1103.7 L441.3 1103.6 L442.2 1103.0 L443.0 1102.5 L443.9 1102.0 L444.8 1101.5 L445.8 1101.0 L446.7 1100.6 L447.6 1100.2 L448.6 1099.9 L449.5 1099.6 L450.5 1099.4 L451.4 1099.3 L452.4 1099.2 L453.4 1099.2 L454.3 1099.2 L455.3 1099.3 L456.3 1099.5 L457.2 1099.7 L458.2 1099.9 L459.1 1100.2 L460.1 1100.5 L461.0 1100.9 L461.9 1101.2 L462.8 1101.6 L463.6 1102.1 L464.5 1102.5 L465.4 1103.0 L466.2 1103.5 L467.0 1104.0 L467.8 1104.6 L468.6 1105.1 L469.1 1105.5 M486.9 1126.7 L487.0 1126.9 L487.6 1127.7 L488.2 1128.6 L488.7 1129.5 L489.3 1130.3 L489.7 1130.9 M504.7 1154.3 L504.9 1154.7 L505.4 1155.5 L505.9 1156.3 L506.4 1157.2 L507.0 1158.0 L507.3 1158.5 M521.9 1183.5 L522.1 1183.9 L522.6 1184.8 L523.1 1185.7 L523.6 1186.5 L524.1 1187.4 L524.6 1188.3 L525.0 1189.2 L525.5 1190.1 L526.0 1191.0 L526.5 1191.9 L527.0 1192.8 L527.5 1193.7 L528.0 1194.6 L528.5 1195.5 L529.0 1196.4 L529.5 1197.3 L530.0 1198.2 L530.5 1199.1 L531.0 1200.0 L531.5 1200.9 L532.0 1201.8 L532.5 1202.6 L533.0 1203.5 L533.5 1204.4 L534.1 1205.3 L534.6 1206.2 L535.1 1207.1 L535.6 1208.0 L536.2 1208.9 L536.7 1209.7 L536.9 1210.0 M553.3 1232.4 L553.4 1232.6 L554.1 1233.3 L554.8 1234.0 L555.5 1234.7 L556.2 1235.4 L556.8 1236.0 M579.7 1251.2 L580.1 1251.3 L581.1 1251.7 L582.0 1252.1 L583.0 1252.4 L583.9 1252.7 L584.4 1252.9 M612.8 1254.8 L613.1 1254.7 L614.1 1254.5 L615.0 1254.3 L615.9 1254.1 L616.9 1253.9 L617.8 1253.7 L618.7 1253.4 L619.6 1253.1 L620.6 1252.9 L621.5 1252.6 L622.4 1252.3 L623.3 1252.0 L624.2 1251.6 L625.2 1251.3 L626.1 1251.0 L627.0 1250.6 L627.9 1250.2 L628.8 1249.9 L629.7 1249.5 L630.6 1249.1 L631.5 1248.7 L632.4 1248.2 L633.3 1247.8 L634.2 1247.4 L635.1 1246.9 L636.0 1246.5 L636.9 1246.0 L637.8 1245.6 L638.7 1245.1 L639.5 1244.6 L640.4 1244.1 L641.1 1243.7 M663.9 1229.0 L664.2 1228.8 L665.1 1228.2 L665.9 1227.6 L666.7 1227.0 L667.6 1226.4 L667.9 1226.1 M690.0 1210.2 L690.3 1209.9 L691.1 1209.3 L691.9 1208.7 L692.7 1208.1 L693.5 1207.5 L694.0 1207.2 M716.4 1190.3 L716.7 1190.1 L717.5 1189.5 L718.3 1188.9 L719.1 1188.3 L719.9 1187.7 L720.7 1187.1 L721.5 1186.5 L722.3 1185.9 L723.1 1185.3 L723.9 1184.7 L724.6 1184.1 L725.4 1183.5 L726.2 1182.9 L727.0 1182.3 L727.8 1181.7 L728.6 1181.1 L729.4 1180.5 L730.2 1179.9 L731.0 1179.3 L731.8 1178.7 L732.6 1178.1 L733.4 1177.6 L734.1 1177.0 L734.9 1176.4 L735.7 1175.8 L736.5 1175.2 L737.3 1174.6 L738.1 1174.0 L738.9 1173.4 L739.7 1172.8 L740.5 1172.2 L740.8 1172.0 M763.6 1155.3 L764.0 1155.0 L764.8 1154.4 L765.6 1153.9 L766.4 1153.3 L767.2 1152.7 L767.7 1152.4 M790.9 1136.6 L791.0 1136.5 L791.9 1135.9 L792.7 1135.4 L793.6 1134.8 L794.4 1134.3 L795.1 1133.9 M820.1 1118.6 L820.2 1118.6 L821.0 1118.1 L821.9 1117.6 L822.8 1117.1 L823.7 1116.6 L824.6 1116.1 L825.4 1115.6 L826.3 1115.1 L827.2 1114.6 L828.1 1114.1 L829.0 1113.7 L829.9 1113.2 L830.8 1112.7 L831.7 1112.2 L832.6 1111.7 L833.4 1111.3 L834.3 1110.8 L835.2 1110.3 L836.1 1109.9 L837.0 1109.4 L837.9 1109.0 L838.8 1108.5 L839.7 1108.0 L840.6 1107.6 L841.5 1107.1 L842.4 1106.7 L843.4 1106.3 L844.3 1105.8 L845.2 1105.4 L846.1 1104.9 L847.0 1104.5 L847.1 1104.5 M873.3 1093.4 L873.4 1093.4 L874.3 1093.1 L875.3 1092.7 L876.2 1092.4 L877.2 1092.1 L878.0 1091.8 M905.2 1084.2 L905.5 1084.1 L906.5 1083.9 L907.4 1083.7 L908.4 1083.5 L909.4 1083.3 L910.1 1083.2 M939.3 1079.6 L939.6 1079.6 L940.6 1079.6 L941.6 1079.5 L942.6 1079.5 L943.6 1079.5 L944.6 1079.4 L945.6 1079.4 L946.6 1079.4 L947.6 1079.3 L948.6 1079.3 L949.6 1079.3 L950.6 1079.3 L951.6 1079.3 L952.6 1079.3 L953.6 1079.3 L954.6 1079.3 L955.6 1079.3 L956.6 1079.3 L957.6 1079.4 L958.6 1079.4 L959.6 1079.4 L960.6 1079.4 L961.6 1079.5 L962.6 1079.5 L963.6 1079.6 L964.6 1079.6 L965.6 1079.7 L966.6 1079.7 L967.6 1079.8 L968.6 1079.9 L969.6 1079.9 L969.8 1079.9 M996.9 1083.4 L996.9 1083.4 L997.9 1083.6 L998.9 1083.8 L999.9 1084.0 L1000.9 1084.1 L1001.8 1084.3 M1028.3 1091.1 L1028.5 1091.2 L1029.5 1091.5 L1030.4 1091.8 L1031.4 1092.1 L1032.3 1092.4 L1033.1 1092.6 M1059.4 1102.9 L1059.7 1103.0 L1060.6 1103.4 L1061.5 1103.8 L1062.4 1104.2 L1063.3 1104.7 L1064.3 1105.1 L1065.2 1105.5 L1066.1 1105.9 L1067.0 1106.3 L1067.9 1106.8 L1068.8 1107.2 L1069.7 1107.6 L1070.6 1108.1 L1071.4 1108.5 L1072.3 1108.9 L1073.2 1109.4 L1074.1 1109.8 L1075.0 1110.3 L1075.9 1110.7 L1076.8 1111.2 L1077.7 1111.6 L1078.6 1112.1 L1079.5 1112.6 L1080.3 1113.0 L1081.2 1113.5 L1082.1 1114.0 L1083.0 1114.4 L1083.9 1114.9 L1084.7 1115.4 L1085.6 1115.8 L1086.5 1116.3 L1086.8 1116.5 M1110.5 1130.4 L1110.7 1130.5 L1111.5 1131.0 L1112.4 1131.5 L1113.2 1132.1 L1114.1 1132.6 L1114.8 1133.1 M1137.8 1148.3 L1137.9 1148.4 L1138.8 1149.0 L1139.6 1149.5 L1140.4 1150.1 L1141.2 1150.7 L1141.9 1151.1 M1165.1 1167.7 L1165.3 1167.9 L1166.1 1168.4 L1166.9 1169.0 L1167.7 1169.6 L1168.5 1170.2 L1169.4 1170.8 L1170.2 1171.4 L1171.0 1172.0 L1171.8 1172.6 L1172.6 1173.2 L1173.4 1173.8 L1174.2 1174.4 L1175.0 1175.0 L1175.8 1175.6 L1176.6 1176.2 L1177.4 1176.8 L1178.2 1177.4 L1179.0 1178.0 L1179.8 1178.6 L1180.6 1179.2 L1181.4 1179.8 L1182.2 1180.4 L1183.0 1181.0 L1183.8 1181.6 L1184.6 1182.2 L1185.4 1182.8 L1186.2 1183.4 L1187.0 1184.0 L1187.8 1184.6 L1188.6 1185.2 L1189.4 1185.8 L1189.6 1186.0 M1211.5 1202.9 L1211.5 1203.0 L1212.3 1203.6 L1213.1 1204.2 L1213.9 1204.8 L1214.7 1205.5 L1215.4 1206.0 M1237.1 1223.2 L1237.5 1223.4 L1238.2 1224.1 L1239.0 1224.7 L1239.8 1225.3 L1240.6 1225.9 L1241.0 1226.3 M1263.5 1244.1 L1263.7 1244.3 L1264.5 1244.9 L1265.3 1245.5 L1266.0 1246.1 L1266.8 1246.8 L1267.6 1247.4 L1268.4 1248.0 L1269.2 1248.6 L1270.0 1249.2 L1270.7 1249.9 L1271.5 1250.5 L1272.3 1251.1 L1273.1 1251.7 L1273.9 1252.3 L1274.7 1253.0 L1275.5 1253.6 L1276.2 1254.2 L1277.0 1254.8 L1277.8 1255.4 L1278.6 1256.1 L1279.4 1256.7 L1280.2 1257.3 L1281.0 1257.9 L1281.7 1258.5 L1282.5 1259.1 L1283.3 1259.7 L1284.1 1260.4 L1284.9 1261.0 L1285.7 1261.6 L1286.5 1262.2 L1287.3 1262.8 L1287.5 1263.0 M1309.5 1280.0 L1309.8 1280.2 L1310.6 1280.8 L1311.4 1281.4 L1312.2 1282.0 L1313.0 1282.6 L1313.5 1283.0 M1335.8 1299.4 L1335.9 1299.5 L1336.7 1300.1 L1337.5 1300.7 L1338.4 1301.2 L1339.2 1301.8 L1339.9 1302.3 M1363.6 1318.8 L1363.8 1318.9 L1364.6 1319.5 L1365.5 1320.0 L1366.3 1320.6 L1367.1 1321.2 L1367.9 1321.7 L1368.8 1322.3 L1369.6 1322.8 L1370.5 1323.4 L1371.3 1323.9 L1372.1 1324.5 L1373.0 1325.0 L1373.8 1325.6 L1374.6 1326.1 L1375.5 1326.7 L1376.3 1327.2 L1377.2 1327.8 L1378.0 1328.3 L1378.8 1328.8 L1379.7 1329.4 L1380.5 1329.9 L1381.4 1330.5 L1382.2 1331.0 L1383.1 1331.5 L1383.9 1332.1 L1384.7 1332.6 L1385.6 1333.1 L1386.4 1333.7 L1387.3 1334.2 L1388.1 1334.7 L1389.0 1335.3 L1389.2 1335.4 M1413.6 1350.0 L1413.9 1350.2 L1414.7 1350.7 L1415.6 1351.2 L1416.5 1351.7 L1417.4 1352.2 L1417.9 1352.5 M1442.7 1366.0 L1442.9 1366.1 L1443.8 1366.5 L1444.6 1367.0 L1445.5 1367.5 L1446.4 1367.9 L1447.1 1368.3 M1473.7 1381.1 L1473.9 1381.2 L1474.8 1381.6 L1475.7 1382.0 L1476.6 1382.4 L1477.5 1382.9 L1478.5 1383.3 L1479.4 1383.7 L1480.3 1384.1 L1481.2 1384.5 L1482.1 1384.9 L1483.0 1385.3 L1483.9 1385.7 L1484.9 1386.1 L1485.8 1386.5 L1486.7 1386.9 L1487.6 1387.3 L1488.5 1387.7 L1489.5 1388.1 L1490.4 1388.5 L1491.3 1388.8 L1492.2 1389.2 L1493.1 1389.6 L1494.1 1390.0 L1495.0 1390.4 L1495.9 1390.8 L1496.8 1391.1 L1497.8 1391.5 L1498.7 1391.9 L1499.6 1392.3 L1500.5 1392.6 L1501.5 1393.0 L1501.7 1393.1 M1528.5 1403.1 L1528.6 1403.2 L1529.6 1403.5 L1530.5 1403.8 L1531.5 1404.1 L1532.4 1404.5 L1533.2 1404.7 M1560.2 1413.3 L1560.6 1413.4 L1561.5 1413.6 L1562.5 1413.9 L1563.4 1414.2 L1564.4 1414.5 L1565.0 1414.7 M1593.7 1422.2 L1593.9 1422.2 L1594.9 1422.5 L1595.8 1422.7 L1596.8 1422.9 L1597.8 1423.2 L1598.8 1423.4 L1599.7 1423.6 L1600.7 1423.9 L1601.7 1424.1 L1602.7 1424.3 L1603.6 1424.5 L1604.6 1424.7 L1605.6 1425.0 L1606.6 1425.2 L1607.5 1425.4 L1608.5 1425.6 L1609.5 1425.8 L1610.5 1426.0 L1611.5 1426.3 L1612.4 1426.5 L1613.4 1426.7 L1614.4 1426.9 L1615.4 1427.1 L1616.3 1427.3 L1617.3 1427.5 L1618.3 1427.7 L1619.3 1427.9 L1620.3 1428.1 L1621.2 1428.3 L1622.2 1428.5 L1623.2 1428.7 L1623.4 1428.7 M1650.8 1433.7 L1651.2 1433.8 L1652.2 1434.0 L1653.2 1434.1 L1654.2 1434.3 L1655.2 1434.4 L1655.8 1434.5 M1683.2 1438.5 L1683.3 1438.5 L1684.3 1438.6 L1685.3 1438.7 L1686.3 1438.9 L1687.3 1439.0 L1688.2 1439.1 M1716.9 1442.3 L1717.1 1442.3 L1718.1 1442.4 L1719.1 1442.5 L1720.1 1442.6 L1721.1 1442.7 L1722.1 1442.8 L1723.1 1442.9 L1724.1 1443.0 L1725.1 1443.1 L1726.1 1443.1 L1727.1 1443.2 L1728.1 1443.3 L1729.1 1443.4 L1730.1 1443.5 L1731.1 1443.6 L1732.1 1443.7 L1733.1 1443.8 L1734.1 1443.8 L1735.0 1443.9 L1736.0 1444.0 L1737.0 1444.1 L1738.0 1444.2 L1739.0 1444.2 L1740.0 1444.3 L1741.0 1444.4 L1742.0 1444.5 L1743.0 1444.6 L1744.0 1444.6 L1745.0 1444.7 L1746.0 1444.8 L1747.0 1444.9 L1747.3 1444.9 M1775.1 1446.7 L1775.5 1446.7 L1776.5 1446.8 L1777.5 1446.8 L1778.5 1446.9 L1779.5 1446.9 L1780.1 1447.0 M1807.9 1448.3 L1808.0 1448.3 L1809.0 1448.3 L1810.0 1448.4 L1811.0 1448.4 L1812.0 1448.4 L1812.9 1448.5 M1841.8 1449.4 L1842.0 1449.4 L1843.0 1449.5 L1844.0 1449.5 L1845.0 1449.5 L1846.0 1449.5 L1847.0 1449.6 L1848.0 1449.6 L1849.0 1449.6 L1850.0 1449.6 L1851.0 1449.7 L1852.0 1449.7 L1853.0 1449.7 L1854.0 1449.8 L1855.0 1449.8 L1856.0 1449.8 L1857.0 1449.8 L1858.0 1449.9 L1859.0 1449.9 L1860.0 1449.9 L1861.0 1449.9 L1862.0 1449.9 L1863.0 1450.0 L1864.0 1450.0 L1865.0 1450.0 L1866.0 1450.0 L1867.0 1450.1 L1868.0 1450.1 L1869.0 1450.1 L1870.0 1450.1 L1871.0 1450.2 L1872.0 1450.2 L1872.3 1450.2 M1899.8 1450.8 L1900.0 1450.8 L1901.0 1450.8 L1902.0 1450.8 L1903.0 1450.8 L1904.0 1450.8 L1904.8 1450.9 M305.0 1384.8 L305.0 1384.7 L305.6 1383.9 L306.2 1383.1 L306.8 1382.3 L307.4 1381.5 L308.0 1380.8 M322.7 1357.6 L322.9 1357.3 L323.4 1356.4 L323.8 1355.5 L324.3 1354.7 L324.8 1353.8 L325.1 1353.2" fill="none" stroke="#00af66" stroke-width="9.0" stroke-linejoin="round" stroke-linecap="round"/>
<path d="M298.3 1423.1 L298.3 1423.1 L299.2 1422.5 L300.1 1422.0 L300.9 1421.5 L301.8 1420.9 L302.7 1420.4 L303.5 1419.8 L304.4 1419.2 L305.2 1418.6 L306.1 1418.1 L306.9 1417.5 L307.7 1416.9 L308.5 1416.3 L309.4 1415.7 L310.2 1415.1 L311.0 1414.5 L311.8 1413.9 L312.6 1413.2 L313.3 1412.6 L314.1 1412.0 L314.9 1411.4 L315.7 1410.7 L316.4 1410.1 L317.2 1409.4 L318.0 1408.8 L318.7 1408.1 L319.1 1407.8 M373.7 1323.9 L373.7 1323.8 L374.1 1322.9 L374.5 1322.0 L374.9 1321.0 L375.3 1320.1 L375.7 1319.2 L376.1 1318.2 L376.5 1317.3 L376.9 1316.4 L377.2 1315.4 L377.6 1314.5 L378.0 1313.6 L378.4 1312.6 L378.8 1311.7 L379.2 1310.8 L379.6 1309.8 L380.0 1308.9 L380.3 1307.9 L380.7 1307.0 L381.1 1306.1 L381.5 1305.1 L381.9 1304.2 L382.2 1303.3 L382.6 1302.3 L383.0 1301.4 L383.4 1300.5 L383.8 1299.5 L384.1 1298.6 L384.5 1297.7 L384.9 1296.8 L385.3 1295.8 L385.3 1295.7 M395.8 1269.7 L395.9 1269.5 L396.2 1268.6 L396.6 1267.7 L397.0 1266.8 L397.3 1265.9 L397.7 1265.1 M407.9 1239.2 L408.1 1238.8 L408.5 1237.9 L408.8 1237.0 L409.2 1236.1 L409.5 1235.2 L409.8 1234.6 M420.2 1207.5 L420.3 1207.4 L420.7 1206.5 L421.0 1205.5 L421.4 1204.6 L421.7 1203.7 L422.1 1202.7 L422.4 1201.8 L422.8 1200.8 L423.1 1199.9 L423.5 1198.9 L423.9 1198.0 L424.2 1197.1 L424.6 1196.1 L424.9 1195.2 L425.3 1194.2 L425.6 1193.3 L426.0 1192.3 L426.3 1191.4 L426.7 1190.4 L427.0 1189.5 L427.4 1188.5 L427.8 1187.6 L428.1 1186.6 L428.5 1185.7 L428.8 1184.7 L429.2 1183.7 L429.5 1182.8 L429.9 1181.8 L430.2 1180.9 L430.6 1179.9 L430.9 1179.0 M440.6 1153.6 L440.7 1153.3 L441.1 1152.4 L441.5 1151.4 L441.9 1150.5 L442.3 1149.6 L442.5 1149.0 M455.5 1125.0 L455.7 1124.9 L456.2 1124.1 L456.8 1123.3 L457.4 1122.5 L458.0 1121.7 L458.5 1121.0 M479.5 1102.5 L479.9 1102.3 L480.8 1101.9 L481.7 1101.5 L482.5 1101.1 L483.4 1100.8 L484.3 1100.5 L485.2 1100.2 L486.1 1100.0 L487.0 1099.8 L487.9 1099.7 L488.8 1099.7 L489.7 1099.7 L490.6 1099.8 L491.5 1099.9 L492.4 1100.1 L493.3 1100.3 L494.1 1100.6 L495.0 1100.9 L495.9 1101.3 L496.8 1101.7 L497.6 1102.1 L498.5 1102.6 L499.3 1103.1 L500.2 1103.6 L501.0 1104.2 L501.8 1104.8 L502.6 1105.4 L503.5 1106.0 L504.3 1106.7 L505.1 1107.4 L505.9 1108.0 L506.6 1108.7 L506.8 1108.9 M525.0 1130.3 L525.1 1130.4 L525.7 1131.3 L526.2 1132.1 L526.8 1133.0 L527.3 1133.8 L527.8 1134.5 M541.4 1159.0 L541.6 1159.4 L542.1 1160.3 L542.6 1161.2 L543.0 1162.1 L543.5 1163.0 L543.7 1163.4 M557.6 1189.2 L557.7 1189.4 L558.2 1190.3 L558.7 1191.2 L559.2 1192.0 L559.7 1192.9 L560.2 1193.8 L560.7 1194.6 L561.2 1195.5 L561.7 1196.3 L562.3 1197.2 L562.8 1198.0 L563.3 1198.9 L563.8 1199.7 L564.3 1200.6 L564.8 1201.4 L565.4 1202.3 L565.9 1203.1 L566.4 1204.0 L567.0 1204.8 L567.5 1205.6 L568.0 1206.5 L568.6 1207.3 L569.1 1208.1 L569.7 1209.0 L570.2 1209.8 L570.8 1210.6 L571.3 1211.4 L571.9 1212.3 L572.4 1213.1 L573.0 1213.9 L573.6 1214.7 L573.8 1215.0 M591.9 1237.5 L592.1 1237.8 L592.8 1238.5 L593.5 1239.3 L594.2 1240.0 L594.9 1240.7 L595.3 1241.1 M618.6 1257.3 L618.8 1257.3 L619.7 1257.6 L620.6 1257.9 L621.5 1258.2 L622.5 1258.4 L623.4 1258.6 M652.9 1255.7 L653.4 1255.5 L654.4 1255.2 L655.4 1254.9 L656.3 1254.5 L657.3 1254.2 L658.2 1253.8 L659.2 1253.5 L660.1 1253.1 L661.1 1252.7 L662.0 1252.3 L663.0 1252.0 L663.9 1251.6 L664.8 1251.1 L665.7 1250.7 L666.6 1250.3 L667.5 1249.9 L668.5 1249.4 L669.4 1249.0 L670.3 1248.5 L671.2 1248.1 L672.0 1247.6 L672.9 1247.1 L673.8 1246.7 L674.7 1246.2 L675.6 1245.7 L676.4 1245.2 L677.3 1244.7 L678.2 1244.2 L679.0 1243.7 L679.9 1243.2 L680.5 1242.8 M703.4 1227.1 L703.4 1227.0 L704.2 1226.5 L705.1 1225.9 L705.9 1225.3 L706.7 1224.7 L707.4 1224.1 M729.6 1207.4 L729.8 1207.3 L730.6 1206.7 L731.4 1206.1 L732.2 1205.4 L733.0 1204.8 L733.5 1204.4 M756.4 1187.0 L756.7 1186.8 L757.5 1186.2 L758.3 1185.6 L759.1 1185.0 L759.9 1184.4 L760.7 1183.8 L761.5 1183.2 L762.3 1182.6 L763.1 1182.0 L763.9 1181.4 L764.6 1180.8 L765.4 1180.2 L766.2 1179.6 L767.0 1179.0 L767.8 1178.4 L768.6 1177.8 L769.4 1177.2 L770.2 1176.6 L771.0 1176.0 L771.8 1175.4 L772.6 1174.8 L773.4 1174.2 L774.2 1173.6 L775.0 1173.0 L775.8 1172.4 L776.6 1171.8 L777.4 1171.2 L778.2 1170.6 L779.0 1170.0 L779.8 1169.5 L780.6 1168.9 L780.9 1168.7 M803.7 1152.2 L804.1 1152.0 L804.9 1151.4 L805.7 1150.9 L806.5 1150.3 L807.3 1149.7 L807.8 1149.4 M831.2 1133.9 L831.5 1133.6 L832.4 1133.1 L833.2 1132.5 L834.1 1132.0 L834.9 1131.5 L835.4 1131.2 M860.5 1116.3 L860.6 1116.3 L861.5 1115.8 L862.4 1115.3 L863.2 1114.8 L864.1 1114.3 L865.0 1113.9 L865.9 1113.4 L866.8 1112.9 L867.7 1112.4 L868.6 1112.0 L869.5 1111.5 L870.4 1111.0 L871.3 1110.6 L872.2 1110.1 L873.1 1109.6 L874.0 1109.2 L874.9 1108.7 L875.8 1108.3 L876.7 1107.8 L877.6 1107.4 L878.5 1106.9 L879.4 1106.5 L880.3 1106.1 L881.2 1105.6 L882.1 1105.2 L883.0 1104.8 L884.0 1104.3 L884.9 1103.9 L885.8 1103.5 L886.7 1103.1 L887.6 1102.6 L887.7 1102.6 M914.2 1092.0 L914.6 1091.9 L915.5 1091.6 L916.5 1091.3 L917.4 1090.9 L918.4 1090.6 L919.0 1090.4 M946.3 1083.4 L946.8 1083.4 L947.7 1083.2 L948.7 1083.0 L949.7 1082.8 L950.7 1082.7 L951.2 1082.6 M980.6 1079.8 L980.9 1079.8 L981.9 1079.8 L982.9 1079.8 L983.9 1079.7 L984.9 1079.7 L985.9 1079.7 L986.9 1079.7 L987.9 1079.7 L988.9 1079.7 L989.9 1079.7 L990.9 1079.8 L991.9 1079.8 L992.9 1079.8 L993.9 1079.8 L994.9 1079.9 L995.9 1079.9 L996.9 1079.9 L997.9 1080.0 L998.9 1080.0 L999.9 1080.1 L1000.9 1080.1 L1001.9 1080.2 L1002.9 1080.3 L1003.9 1080.3 L1004.9 1080.4 L1005.9 1080.5 L1006.9 1080.6 L1007.9 1080.7 L1008.8 1080.7 L1009.8 1080.8 L1010.8 1080.9 L1011.1 1081.0 M1038.2 1085.2 L1038.6 1085.3 L1039.6 1085.5 L1040.6 1085.7 L1041.5 1085.9 L1042.5 1086.1 L1043.1 1086.3 M1069.5 1093.8 L1070.0 1094.0 L1070.9 1094.3 L1071.9 1094.6 L1072.8 1095.0 L1073.7 1095.3 L1074.3 1095.5 M1100.5 1106.5 L1100.8 1106.6 L1101.7 1107.0 L1102.6 1107.5 L1103.5 1107.9 L1104.4 1108.3 L1105.3 1108.8 L1106.2 1109.2 L1107.1 1109.7 L1108.0 1110.1 L1108.9 1110.6 L1109.8 1111.0 L1110.6 1111.5 L1111.5 1111.9 L1112.4 1112.4 L1113.3 1112.8 L1114.2 1113.3 L1115.1 1113.8 L1115.9 1114.2 L1116.8 1114.7 L1117.7 1115.2 L1118.6 1115.7 L1119.4 1116.1 L1120.3 1116.6 L1121.2 1117.1 L1122.1 1117.6 L1122.9 1118.1 L1123.8 1118.6 L1124.7 1119.1 L1125.5 1119.5 L1126.4 1120.0 L1127.3 1120.5 L1127.5 1120.7 M1151.3 1135.4 L1151.5 1135.5 L1152.3 1136.1 L1153.1 1136.6 L1154.0 1137.2 L1154.8 1137.7 L1155.4 1138.1 M1178.3 1154.0 L1178.3 1154.0 L1179.1 1154.6 L1179.9 1155.2 L1180.7 1155.8 L1181.5 1156.4 L1182.3 1156.9 M1205.5 1174.2 L1205.7 1174.3 L1206.5 1174.9 L1207.3 1175.6 L1208.1 1176.2 L1208.8 1176.8 L1209.6 1177.4 L1210.4 1178.0 L1211.2 1178.6 L1212.0 1179.2 L1212.8 1179.8 L1213.6 1180.5 L1214.4 1181.1 L1215.2 1181.7 L1216.0 1182.3 L1216.8 1182.9 L1217.6 1183.5 L1218.4 1184.1 L1219.2 1184.8 L1219.9 1185.4 L1220.7 1186.0 L1221.5 1186.6 L1222.3 1187.2 L1223.1 1187.9 L1223.9 1188.5 L1224.7 1189.1 L1225.5 1189.7 L1226.3 1190.3 L1227.0 1191.0 L1227.8 1191.6 L1228.6 1192.2 L1229.4 1192.8 L1229.6 1192.9 M1251.4 1210.4 L1251.7 1210.7 L1252.5 1211.3 L1253.3 1211.9 L1254.1 1212.6 L1254.9 1213.2 L1255.3 1213.6 M1276.9 1231.1 L1277.1 1231.2 L1277.8 1231.8 L1278.6 1232.5 L1279.4 1233.1 L1280.2 1233.7 L1280.8 1234.2 M1303.4 1252.5 L1303.5 1252.6 L1304.3 1253.2 L1305.1 1253.9 L1305.9 1254.5 L1306.7 1255.1 L1307.5 1255.7 L1308.2 1256.4 L1309.0 1257.0 L1309.8 1257.6 L1310.6 1258.2 L1311.4 1258.9 L1312.2 1259.5 L1312.9 1260.1 L1313.7 1260.7 L1314.5 1261.4 L1315.3 1262.0 L1316.1 1262.6 L1316.9 1263.2 L1317.6 1263.8 L1318.4 1264.5 L1319.2 1265.1 L1320.0 1265.7 L1320.8 1266.3 L1321.6 1266.9 L1322.4 1267.6 L1323.1 1268.2 L1323.9 1268.8 L1324.7 1269.4 L1325.5 1270.0 L1326.3 1270.6 L1327.1 1271.3 L1327.3 1271.4 M1349.6 1288.5 L1349.7 1288.6 L1350.5 1289.2 L1351.3 1289.8 L1352.1 1290.4 L1352.9 1291.0 L1353.6 1291.5 M1376.3 1308.0 L1376.3 1308.0 L1377.1 1308.6 L1377.9 1309.1 L1378.7 1309.7 L1379.6 1310.3 L1380.4 1310.8 M1404.6 1327.1 L1404.8 1327.3 L1405.7 1327.8 L1406.5 1328.3 L1407.3 1328.9 L1408.2 1329.4 L1409.0 1330.0 L1409.9 1330.5 L1410.7 1331.0 L1411.5 1331.6 L1412.4 1332.1 L1413.2 1332.6 L1414.1 1333.1 L1414.9 1333.7 L1415.8 1334.2 L1416.6 1334.7 L1417.5 1335.3 L1418.3 1335.8 L1419.2 1336.3 L1420.0 1336.8 L1420.9 1337.3 L1421.7 1337.9 L1422.6 1338.4 L1423.4 1338.9 L1424.3 1339.4 L1425.2 1339.9 L1426.0 1340.4 L1426.9 1341.0 L1427.7 1341.5 L1428.6 1342.0 L1429.4 1342.5 L1430.3 1343.0 L1430.5 1343.1 M1455.1 1357.0 L1455.5 1357.2 L1456.4 1357.7 L1457.3 1358.2 L1458.2 1358.7 L1459.1 1359.1 L1459.5 1359.4 M1484.5 1372.0 L1484.9 1372.2 L1485.8 1372.7 L1486.7 1373.1 L1487.6 1373.5 L1488.5 1374.0 L1489.0 1374.2 M1515.6 1386.2 L1515.9 1386.3 L1516.8 1386.7 L1517.7 1387.1 L1518.6 1387.5 L1519.6 1387.9 L1520.5 1388.3 L1521.4 1388.7 L1522.3 1389.1 L1523.2 1389.4 L1524.2 1389.8 L1525.1 1390.2 L1526.0 1390.6 L1526.9 1391.0 L1527.9 1391.3 L1528.8 1391.7 L1529.7 1392.1 L1530.7 1392.5 L1531.6 1392.8 L1532.5 1393.2 L1533.4 1393.6 L1534.4 1393.9 L1535.3 1394.3 L1536.2 1394.7 L1537.2 1395.0 L1538.1 1395.4 L1539.0 1395.8 L1540.0 1396.1 L1540.9 1396.5 L1541.8 1396.8 L1542.8 1397.2 L1543.7 1397.6 L1543.9 1397.6 M1570.7 1407.2 L1571.0 1407.3 L1572.0 1407.6 L1572.9 1407.9 L1573.9 1408.3 L1574.8 1408.6 L1575.4 1408.8 M1602.3 1417.0 L1602.5 1417.1 L1603.5 1417.3 L1604.5 1417.6 L1605.4 1417.9 L1606.4 1418.1 L1607.2 1418.3 M1635.7 1425.6 L1635.9 1425.6 L1636.9 1425.9 L1637.9 1426.1 L1638.9 1426.3 L1639.8 1426.5 L1640.8 1426.7 L1641.8 1427.0 L1642.8 1427.2 L1643.7 1427.4 L1644.7 1427.6 L1645.7 1427.8 L1646.7 1428.0 L1647.6 1428.2 L1648.6 1428.4 L1649.6 1428.7 L1650.6 1428.9 L1651.6 1429.1 L1652.5 1429.3 L1653.5 1429.5 L1654.5 1429.7 L1655.5 1429.9 L1656.5 1430.1 L1657.4 1430.2 L1658.4 1430.4 L1659.4 1430.6 L1660.4 1430.8 L1661.4 1431.0 L1662.3 1431.2 L1663.3 1431.4 L1664.3 1431.6 L1665.3 1431.8 L1665.5 1431.8 M1693.3 1436.4 L1693.4 1436.4 L1694.4 1436.5 L1695.4 1436.7 L1696.4 1436.8 L1697.4 1436.9 L1698.2 1437.1 M1725.9 1440.5 L1726.2 1440.5 L1727.2 1440.6 L1728.2 1440.7 L1729.2 1440.8 L1730.2 1440.9 L1730.9 1441.0 M1759.9 1443.6 L1760.1 1443.6 L1761.1 1443.7 L1762.1 1443.7 L1763.1 1443.8 L1764.1 1443.9 L1765.1 1444.0 L1766.1 1444.0 L1767.1 1444.1 L1768.1 1444.2 L1769.1 1444.2 L1770.1 1444.3 L1771.1 1444.4 L1772.1 1444.5 L1773.1 1444.5 L1774.1 1444.6 L1775.1 1444.7 L1776.1 1444.7 L1777.1 1444.8 L1778.1 1444.9 L1779.1 1444.9 L1780.1 1445.0 L1781.1 1445.0 L1782.1 1445.1 L1783.1 1445.2 L1784.1 1445.2 L1785.1 1445.3 L1786.1 1445.4 L1787.1 1445.4 L1788.1 1445.5 L1789.1 1445.5 L1790.1 1445.6 L1790.3 1445.6 M1817.8 1447.0 L1818.2 1447.0 L1819.2 1447.1 L1820.2 1447.1 L1821.2 1447.2 L1822.2 1447.2 L1822.8 1447.3 M1850.3 1448.4 L1850.7 1448.4 L1851.7 1448.5 L1852.7 1448.5 L1853.7 1448.6 L1854.7 1448.6 L1855.3 1448.6 M1883.7 1449.8 L1884.1 1449.8 L1885.1 1449.9 L1886.1 1449.9 L1887.0 1449.9 L1888.0 1450.0 L1889.0 1450.0 L1890.0 1450.1 L1891.0 1450.1 L1892.0 1450.2 L1893.0 1450.2 L1894.0 1450.2 L1895.0 1450.3 L1896.0 1450.3 L1897.0 1450.4 L1898.0 1450.4 L1899.0 1450.5 L1899.9 1450.5 L1900.9 1450.6 L1901.9 1450.6 L1902.9 1450.7 L1903.9 1450.7 L1904.9 1450.8 L1905.9 1450.8 L1906.9 1450.9 L1907.9 1450.9 L1908.9 1451.0 L1909.8 1451.0 L1910.8 1451.1 M342.3 1381.8 L342.4 1381.6 L343.0 1380.8 L343.6 1379.9 L344.1 1379.1 L344.7 1378.3 L345.1 1377.7 M359.3 1354.1 L359.4 1353.9 L359.9 1353.0 L360.3 1352.2 L360.8 1351.3 L361.2 1350.4 L361.6 1349.7" fill="none" stroke="#c27ae4" stroke-width="9.0" stroke-linejoin="round" stroke-linecap="round"/>
<g fill="#000"><rect x="26" y="14" width="7" height="1662"/><rect x="26" y="14" width="2023" height="7"/><rect x="2042" y="14" width="7" height="1646"/><rect x="26" y="1641" width="2023" height="6"/><rect x="294.9" y="1647" width="7" height="29"/><rect x="563.7" y="1647" width="7" height="29"/><rect x="832.6" y="1647" width="7" height="29"/><rect x="1101.4" y="1647" width="7" height="29"/><rect x="1370.3" y="1647" width="7" height="29"/><rect x="1639.1" y="1647" width="7" height="29"/><rect x="1908.0" y="1647" width="7" height="29"/><rect x="160.4" y="1647" width="7" height="13"/><rect x="429.3" y="1647" width="7" height="13"/><rect x="698.1" y="1647" width="7" height="13"/><rect x="967.0" y="1647" width="7" height="13"/><rect x="1235.9" y="1647" width="7" height="13"/><rect x="1504.7" y="1647" width="7" height="13"/><rect x="1773.6" y="1647" width="7" height="13"/></g>
<text x="29.5" y="1750" font-size="71" text-anchor="middle">0</text>
<text x="298.4" y="1750" font-size="71" text-anchor="middle">100</text>
<text x="567.2" y="1750" font-size="71" text-anchor="middle">200</text>
<text x="836.1" y="1750" font-size="71" text-anchor="middle">300</text>
<text x="1104.9" y="1750" font-size="71" text-anchor="middle">400</text>
<text x="1373.8" y="1750" font-size="71" text-anchor="middle">500</text>
<text x="1642.6" y="1750" font-size="71" text-anchor="middle">600</text>
<text x="1911.5" y="1750" font-size="71" text-anchor="middle">700</text>
<text x="1040.2" y="1884" font-size="86" text-anchor="middle" textLength="542.7" lengthAdjust="spacingAndGlyphs">Temperature/°C</text>
<path d="M1188.5 150.4 L1375.5 150.4" fill="none" stroke="#737373" stroke-width="9.0" stroke-linecap="round"/>
<text x="1395.0" y="178.9" font-size="86.5" textLength="90.6" lengthAdjust="spacingAndGlyphs">Z1</text>
<path d="M1188.5 254.4 L1375.5 254.4" fill="none" stroke="#ff4040" stroke-width="9.0" stroke-linecap="round" stroke-dasharray="30.5 27.5 5 27.5 5 28.5"/>
<text x="1397.2" y="282.9" font-size="86.5" textLength="178.0" lengthAdjust="spacingAndGlyphs">AT-1</text>
<path d="M1188.5 358.4 L1375.5 358.4" fill="none" stroke="#0372e6" stroke-width="9.0" stroke-linecap="round" stroke-dasharray="30.5 27.5 5 27.5 5 28.5"/>
<text x="1397.2" y="386.9" font-size="86.5" textLength="184.5" lengthAdjust="spacingAndGlyphs">AT-2</text>
<path d="M1188.5 462.4 L1375.5 462.4" fill="none" stroke="#00af66" stroke-width="9.0" stroke-linecap="round" stroke-dasharray="30.5 27.5 5 27.5 5 28.5"/>
<text x="1397.2" y="490.9" font-size="86.5" textLength="179.9" lengthAdjust="spacingAndGlyphs">AT-3</text>
<path d="M1188.5 566.4 L1375.5 566.4" fill="none" stroke="#c27ae4" stroke-width="9.0" stroke-linecap="round" stroke-dasharray="30.5 27.5 5 27.5 5 28.5"/>
<text x="1397.2" y="594.9" font-size="86.5" textLength="181.4" lengthAdjust="spacingAndGlyphs">AT-4</text>
</svg></body></html>
